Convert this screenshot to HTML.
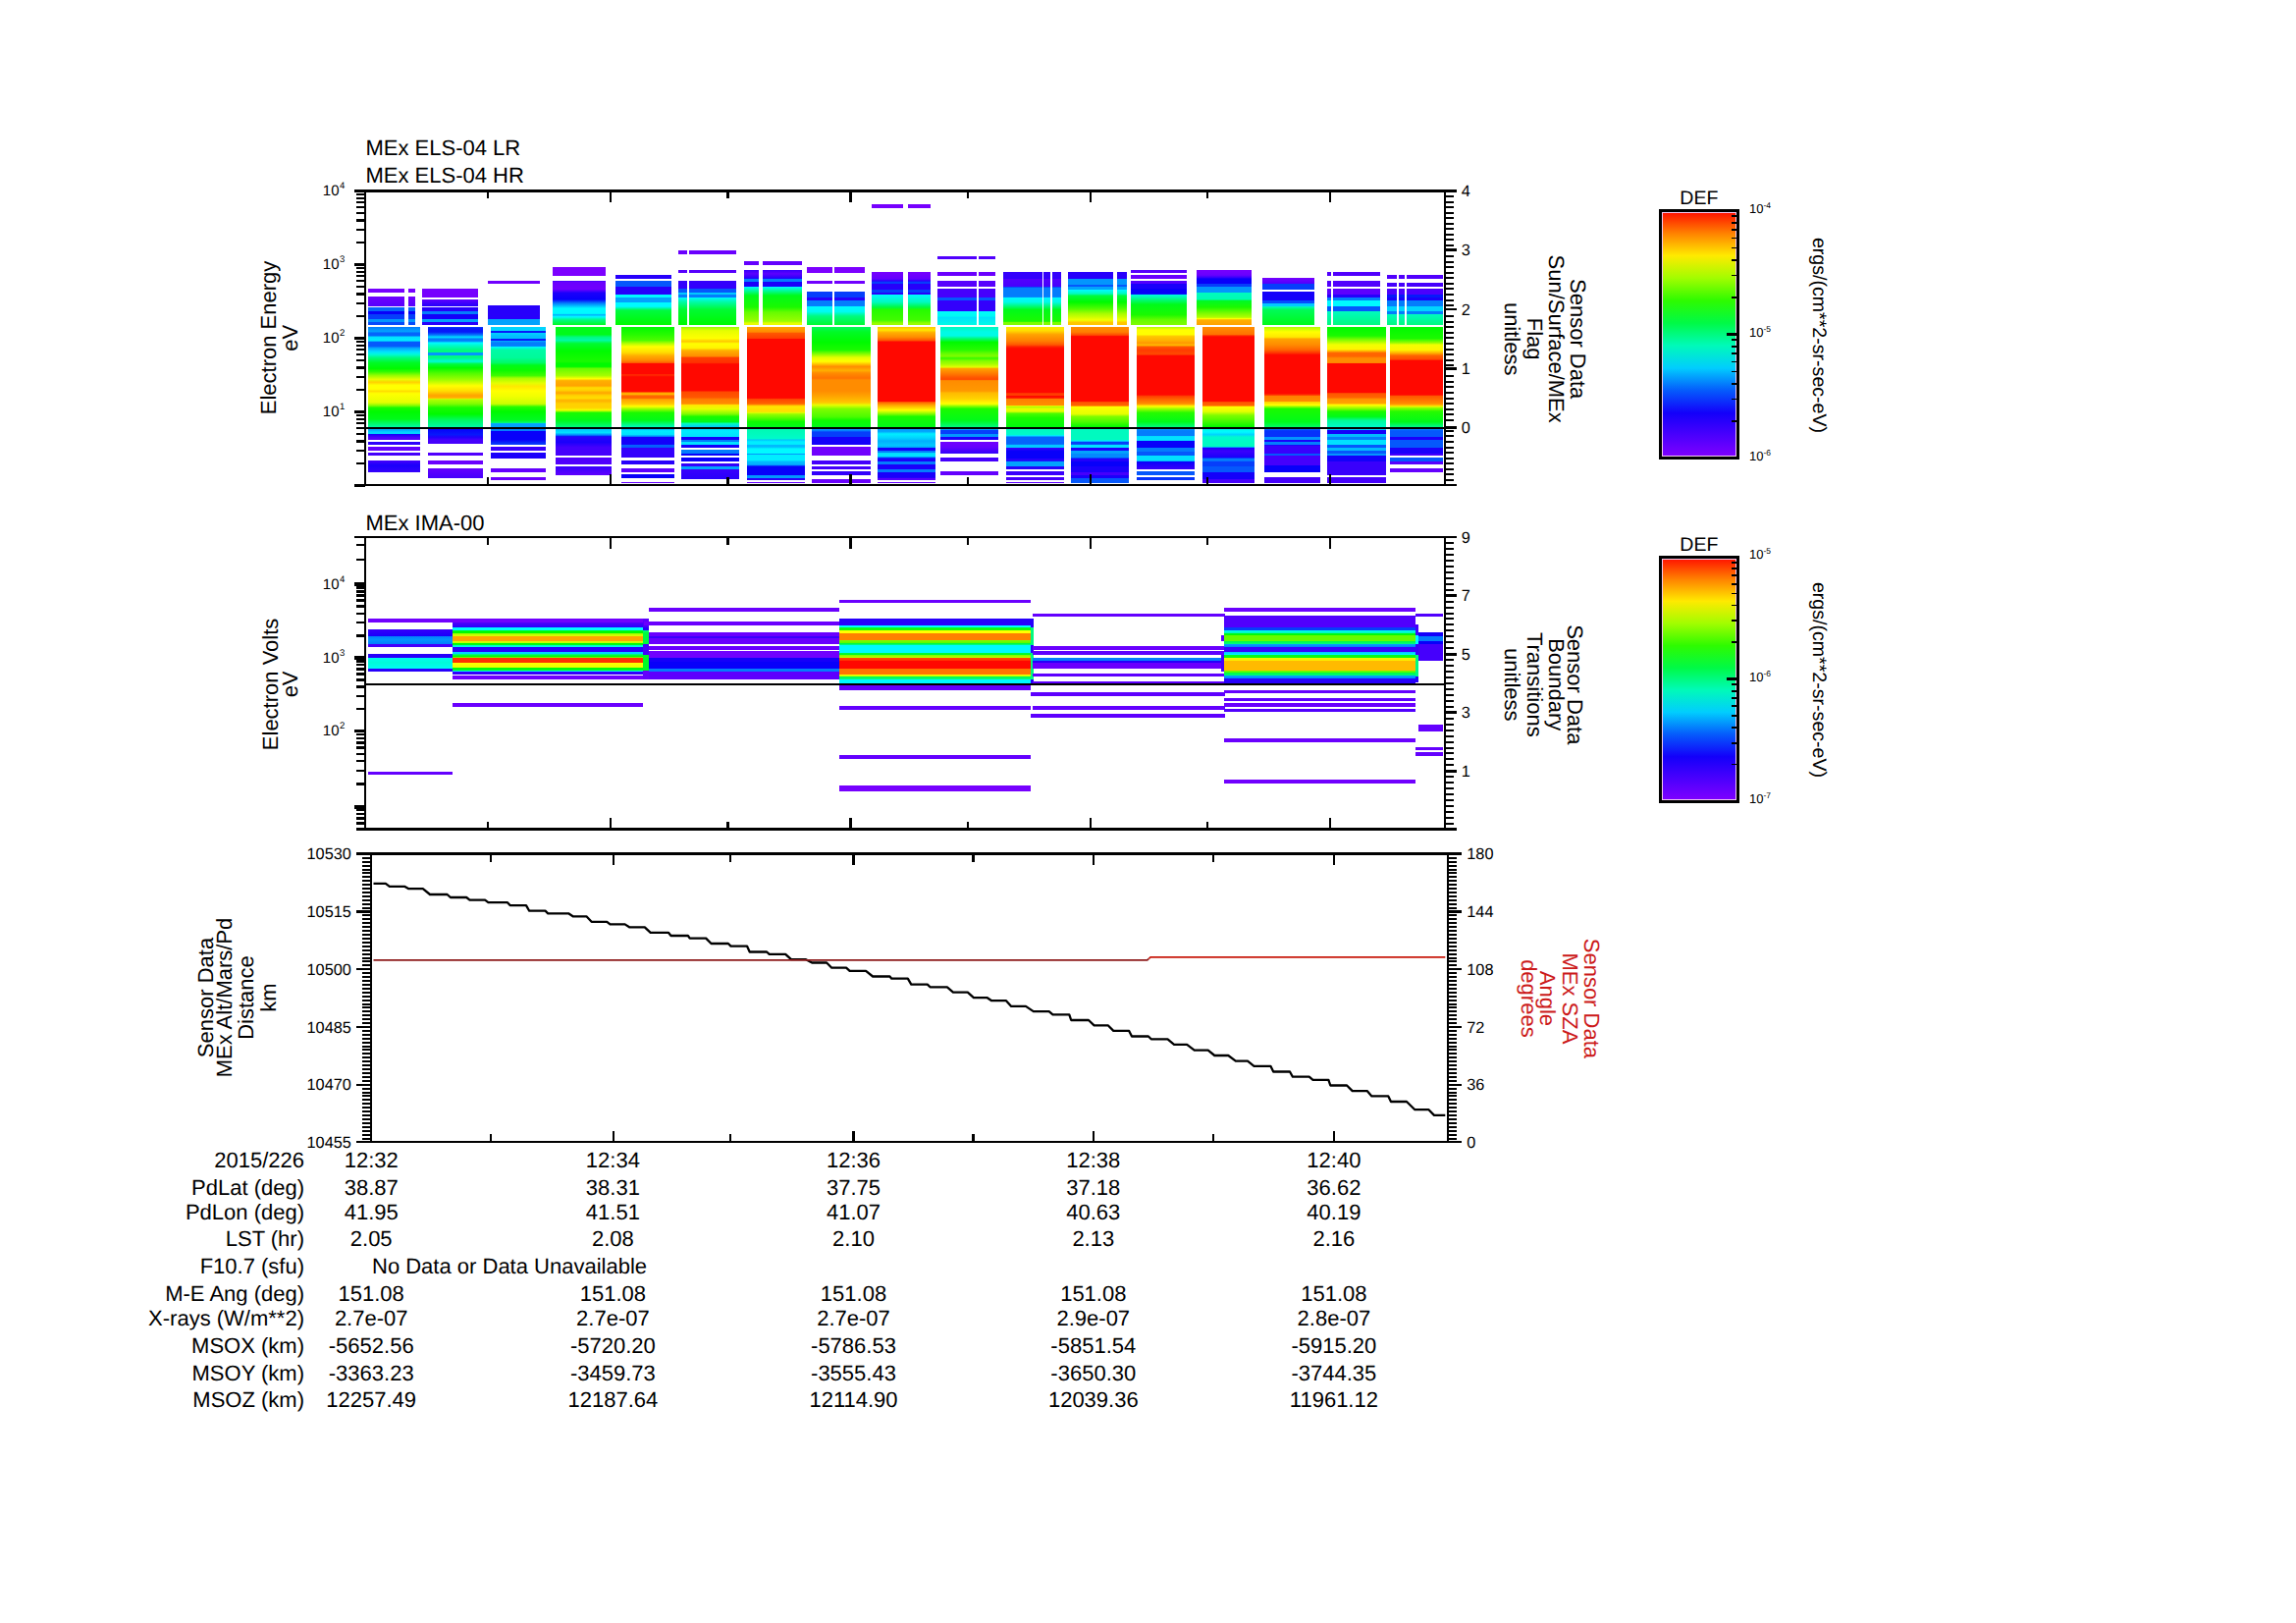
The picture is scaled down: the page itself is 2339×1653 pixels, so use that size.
<!DOCTYPE html>
<html><head><meta charset="utf-8"><title>MEx ELS / IMA summary plot</title><style>html,body{margin:0;padding:0;background:#fff;font-family:"Liberation Sans",sans-serif}svg{display:block}</style></head><body>
<svg width="2339" height="1653" viewBox="0 0 2339 1653" font-family="'Liberation Sans', sans-serif" shape-rendering="crispEdges" text-rendering="geometricPrecision"><defs><linearGradient id="g1" x1="0" y1="0" x2="0" y2="1"><stop offset="0.0000" stop-color="#047dfc"/><stop offset="0.0377" stop-color="#03a2fd"/><stop offset="0.0548" stop-color="#0564fc"/><stop offset="0.0753" stop-color="#0564fc"/><stop offset="0.0890" stop-color="#01e1fe"/><stop offset="0.1210" stop-color="#00eeff"/><stop offset="0.1279" stop-color="#03a2fd"/><stop offset="0.1347" stop-color="#0558fc"/><stop offset="0.1689" stop-color="#0558fc"/><stop offset="0.1861" stop-color="#03a2fd"/><stop offset="0.2203" stop-color="#01e1fe"/><stop offset="0.2432" stop-color="#00fad9"/><stop offset="0.2717" stop-color="#00fa80"/><stop offset="0.3174" stop-color="#00fa26"/><stop offset="0.3687" stop-color="#00fa00"/><stop offset="0.3973" stop-color="#33fb00"/><stop offset="0.4315" stop-color="#99fd00"/><stop offset="0.4658" stop-color="#e5fe00"/><stop offset="0.4909" stop-color="#ffd100"/><stop offset="0.5171" stop-color="#ffff00"/><stop offset="0.5514" stop-color="#ffff00"/><stop offset="0.5708" stop-color="#ffdd00"/><stop offset="0.5913" stop-color="#ffff00"/><stop offset="0.6712" stop-color="#e5fe00"/><stop offset="0.6998" stop-color="#7ffc00"/><stop offset="0.7169" stop-color="#1afa00"/><stop offset="0.7511" stop-color="#00fa00"/><stop offset="0.8196" stop-color="#00fa1a"/><stop offset="0.8425" stop-color="#00fa4c"/><stop offset="0.8904" stop-color="#00faa6"/><stop offset="0.8984" stop-color="#00faf2"/><stop offset="0.9064" stop-color="#02bbfe"/><stop offset="0.9132" stop-color="#03a2fd"/><stop offset="0.9338" stop-color="#01d4fe"/><stop offset="0.9486" stop-color="#01d4fe"/><stop offset="0.9486" stop-color="#0800fa"/><stop offset="0.9623" stop-color="#2700fb"/><stop offset="0.9852" stop-color="#5100fd"/><stop offset="1.0000" stop-color="#5100fd"/></linearGradient><linearGradient id="g2" x1="0" y1="0" x2="0" y2="1"><stop offset="0.0000" stop-color="#4500fc"/><stop offset="0.4318" stop-color="#1a00fb"/><stop offset="1.0000" stop-color="#3300fc"/><stop offset="1.0000" stop-color="#3300fc"/></linearGradient><linearGradient id="g3" x1="0" y1="0" x2="0" y2="1"><stop offset="0.0000" stop-color="#063efb"/><stop offset="0.0142" stop-color="#0719fa"/><stop offset="0.0416" stop-color="#0719fa"/><stop offset="0.0690" stop-color="#047dfc"/><stop offset="0.0854" stop-color="#01e1fe"/><stop offset="0.1019" stop-color="#047dfc"/><stop offset="0.1183" stop-color="#047dfc"/><stop offset="0.1265" stop-color="#02bbfe"/><stop offset="0.1347" stop-color="#00faff"/><stop offset="0.1621" stop-color="#00fabf"/><stop offset="0.1950" stop-color="#00fa80"/><stop offset="0.2147" stop-color="#00fa80"/><stop offset="0.2147" stop-color="#0396fd"/><stop offset="0.2388" stop-color="#0396fd"/><stop offset="0.2388" stop-color="#00fa80"/><stop offset="0.2607" stop-color="#00fa80"/><stop offset="0.2935" stop-color="#00fad9"/><stop offset="0.3045" stop-color="#00fa8c"/><stop offset="0.3154" stop-color="#00fa40"/><stop offset="0.3483" stop-color="#00fa00"/><stop offset="0.3921" stop-color="#4dfc00"/><stop offset="0.4469" stop-color="#99fd00"/><stop offset="0.5016" stop-color="#ffff00"/><stop offset="0.5455" stop-color="#ffdd00"/><stop offset="0.5838" stop-color="#ffa300"/><stop offset="0.6057" stop-color="#ffaf00"/><stop offset="0.6112" stop-color="#fff900"/><stop offset="0.6166" stop-color="#b2fe00"/><stop offset="0.6550" stop-color="#7ffc00"/><stop offset="0.6878" stop-color="#1afa00"/><stop offset="0.7426" stop-color="#00fa00"/><stop offset="0.7974" stop-color="#00fa66"/><stop offset="0.8543" stop-color="#00faa6"/><stop offset="0.8594" stop-color="#01e1fe"/><stop offset="0.8645" stop-color="#0471fc"/><stop offset="0.8697" stop-color="#0800fa"/><stop offset="0.9179" stop-color="#0719fa"/><stop offset="0.9398" stop-color="#2000fb"/><stop offset="0.9617" stop-color="#4500fc"/><stop offset="1.0000" stop-color="#4500fc"/><stop offset="1.0000" stop-color="#4500fc"/></linearGradient><linearGradient id="g4" x1="0" y1="0" x2="0" y2="1"><stop offset="0.0000" stop-color="#6400fe"/><stop offset="1.0000" stop-color="#4500fc"/><stop offset="1.0000" stop-color="#4500fc"/></linearGradient><linearGradient id="g5" x1="0" y1="0" x2="0" y2="1"><stop offset="0.0000" stop-color="#01d4fe"/><stop offset="0.0306" stop-color="#01d4fe"/><stop offset="0.0306" stop-color="#0719fa"/><stop offset="0.0470" stop-color="#0719fa"/><stop offset="0.0470" stop-color="#01d4fe"/><stop offset="0.0798" stop-color="#02bbfe"/><stop offset="0.0984" stop-color="#02bbfe"/><stop offset="0.0984" stop-color="#0719fa"/><stop offset="0.1202" stop-color="#0719fa"/><stop offset="0.1202" stop-color="#03a2fd"/><stop offset="0.1344" stop-color="#047dfc"/><stop offset="0.1617" stop-color="#047dfc"/><stop offset="0.1645" stop-color="#02bbfe"/><stop offset="0.1672" stop-color="#00faff"/><stop offset="0.1945" stop-color="#00faa6"/><stop offset="0.2601" stop-color="#00fa99"/><stop offset="0.3038" stop-color="#00fa66"/><stop offset="0.3257" stop-color="#00fa1a"/><stop offset="0.3694" stop-color="#0dfa00"/><stop offset="0.4131" stop-color="#40fb00"/><stop offset="0.4350" stop-color="#a6fd00"/><stop offset="0.4787" stop-color="#e5fe00"/><stop offset="0.5060" stop-color="#ffe800"/><stop offset="0.5443" stop-color="#ffff00"/><stop offset="0.5880" stop-color="#f2ff00"/><stop offset="0.6536" stop-color="#ccfe00"/><stop offset="0.6672" stop-color="#79fc00"/><stop offset="0.6809" stop-color="#26fb00"/><stop offset="0.7191" stop-color="#00fa00"/><stop offset="0.7956" stop-color="#00fa26"/><stop offset="0.8175" stop-color="#00fa80"/><stop offset="0.8202" stop-color="#00faec"/><stop offset="0.8230" stop-color="#03a2fd"/><stop offset="0.8525" stop-color="#03a2fd"/><stop offset="0.8667" stop-color="#047dfc"/><stop offset="0.8831" stop-color="#047dfc"/><stop offset="0.8885" stop-color="#0800fa"/><stop offset="0.9596" stop-color="#0800fa"/><stop offset="0.9978" stop-color="#063efb"/><stop offset="1.0000" stop-color="#063efb"/></linearGradient><linearGradient id="g6" x1="0" y1="0" x2="0" y2="1"><stop offset="0.0000" stop-color="#00fa1a"/><stop offset="0.0581" stop-color="#00fa1a"/><stop offset="0.0782" stop-color="#00fa80"/><stop offset="0.1032" stop-color="#00faa6"/><stop offset="0.1283" stop-color="#00fa33"/><stop offset="0.1884" stop-color="#00fa00"/><stop offset="0.2685" stop-color="#1afa00"/><stop offset="0.2836" stop-color="#00fa00"/><stop offset="0.3086" stop-color="#00fa00"/><stop offset="0.3236" stop-color="#66fc00"/><stop offset="0.3788" stop-color="#a6fd00"/><stop offset="0.4038" stop-color="#ffff00"/><stop offset="0.4188" stop-color="#ffaf00"/><stop offset="0.4589" stop-color="#ffa300"/><stop offset="0.4739" stop-color="#ffdd00"/><stop offset="0.4940" stop-color="#ffd100"/><stop offset="0.5140" stop-color="#ffa300"/><stop offset="0.5341" stop-color="#ffd100"/><stop offset="0.5541" stop-color="#ffdd00"/><stop offset="0.5741" stop-color="#ffaf00"/><stop offset="0.5992" stop-color="#ffd100"/><stop offset="0.6293" stop-color="#ffd100"/><stop offset="0.6493" stop-color="#f2ff00"/><stop offset="0.6593" stop-color="#86fd00"/><stop offset="0.6693" stop-color="#1afa00"/><stop offset="0.7295" stop-color="#00fa1a"/><stop offset="0.7816" stop-color="#00fa80"/><stop offset="0.7906" stop-color="#00fad9"/><stop offset="0.7996" stop-color="#02c8fe"/><stop offset="0.8246" stop-color="#01e1fe"/><stop offset="0.8447" stop-color="#047dfc"/><stop offset="0.8522" stop-color="#071ffb"/><stop offset="0.8597" stop-color="#2700fb"/><stop offset="0.8998" stop-color="#1a00fb"/><stop offset="0.9399" stop-color="#4500fc"/><stop offset="1.0000" stop-color="#4500fc"/><stop offset="1.0000" stop-color="#4500fc"/></linearGradient><linearGradient id="g7" x1="0" y1="0" x2="0" y2="1"><stop offset="0.0000" stop-color="#3900fc"/><stop offset="1.0000" stop-color="#5d00fe"/><stop offset="1.0000" stop-color="#5d00fe"/></linearGradient><linearGradient id="g8" x1="0" y1="0" x2="0" y2="1"><stop offset="0.0000" stop-color="#7000fe"/><stop offset="1.0000" stop-color="#5700fd"/><stop offset="1.0000" stop-color="#5700fd"/></linearGradient><linearGradient id="g9" x1="0" y1="0" x2="0" y2="1"><stop offset="0.0000" stop-color="#0564fc"/><stop offset="0.2074" stop-color="#0564fc"/><stop offset="0.2074" stop-color="#0800fa"/><stop offset="0.3926" stop-color="#0800fa"/><stop offset="0.3926" stop-color="#063efb"/><stop offset="0.6519" stop-color="#063efb"/><stop offset="0.6519" stop-color="#0396fd"/><stop offset="0.8370" stop-color="#0396fd"/><stop offset="0.8370" stop-color="#064bfc"/><stop offset="1.0000" stop-color="#064bfc"/><stop offset="1.0000" stop-color="#064bfc"/></linearGradient><linearGradient id="g10" x1="0" y1="0" x2="0" y2="1"><stop offset="0.0000" stop-color="#7000fe"/><stop offset="1.0000" stop-color="#5700fd"/><stop offset="1.0000" stop-color="#5700fd"/></linearGradient><linearGradient id="g11" x1="0" y1="0" x2="0" y2="1"><stop offset="0.0000" stop-color="#0564fc"/><stop offset="0.2074" stop-color="#0564fc"/><stop offset="0.2074" stop-color="#0800fa"/><stop offset="0.3926" stop-color="#0800fa"/><stop offset="0.3926" stop-color="#063efb"/><stop offset="0.6519" stop-color="#063efb"/><stop offset="0.6519" stop-color="#0396fd"/><stop offset="0.8370" stop-color="#0396fd"/><stop offset="0.8370" stop-color="#064bfc"/><stop offset="1.0000" stop-color="#064bfc"/><stop offset="1.0000" stop-color="#064bfc"/></linearGradient><linearGradient id="g12" x1="0" y1="0" x2="0" y2="1"><stop offset="0.0000" stop-color="#5d00fe"/><stop offset="1.0000" stop-color="#2700fb"/><stop offset="1.0000" stop-color="#2700fb"/></linearGradient><linearGradient id="g13" x1="0" y1="0" x2="0" y2="1"><stop offset="0.0000" stop-color="#2700fb"/><stop offset="0.2074" stop-color="#2700fb"/><stop offset="0.2074" stop-color="#047dfc"/><stop offset="0.3926" stop-color="#047dfc"/><stop offset="0.3926" stop-color="#1400fa"/><stop offset="0.6519" stop-color="#1400fa"/><stop offset="0.6519" stop-color="#03a2fd"/><stop offset="0.8370" stop-color="#03a2fd"/><stop offset="0.8370" stop-color="#2700fb"/><stop offset="1.0000" stop-color="#2700fb"/><stop offset="1.0000" stop-color="#2700fb"/></linearGradient><linearGradient id="g14" x1="0" y1="0" x2="0" y2="1"><stop offset="0.0000" stop-color="#2700fb"/><stop offset="0.6846" stop-color="#2700fb"/><stop offset="0.6846" stop-color="#03a2fd"/><stop offset="1.0000" stop-color="#03a2fd"/><stop offset="1.0000" stop-color="#03a2fd"/></linearGradient><linearGradient id="g15" x1="0" y1="0" x2="0" y2="1"><stop offset="0.0000" stop-color="#3900fc"/><stop offset="0.0292" stop-color="#6a00fe"/><stop offset="0.1901" stop-color="#7000fe"/><stop offset="0.2339" stop-color="#4500fc"/><stop offset="0.2778" stop-color="#1a00fb"/><stop offset="0.4240" stop-color="#0800fa"/><stop offset="0.5117" stop-color="#047dfc"/><stop offset="0.5702" stop-color="#02bbfe"/><stop offset="0.6287" stop-color="#00faff"/><stop offset="0.7456" stop-color="#00faff"/><stop offset="0.7749" stop-color="#02affe"/><stop offset="0.8187" stop-color="#00faff"/><stop offset="0.8918" stop-color="#00fa80"/><stop offset="1.0000" stop-color="#00fa26"/><stop offset="1.0000" stop-color="#00fa26"/></linearGradient><linearGradient id="g16" x1="0" y1="0" x2="0" y2="1"><stop offset="0.0000" stop-color="#00fa00"/><stop offset="0.0569" stop-color="#26fb00"/><stop offset="0.1010" stop-color="#4dfc00"/><stop offset="0.1255" stop-color="#b2fe00"/><stop offset="0.1500" stop-color="#ffff00"/><stop offset="0.1941" stop-color="#ffdd00"/><stop offset="0.2186" stop-color="#ffaf00"/><stop offset="0.2529" stop-color="#ff8c00"/><stop offset="0.2725" stop-color="#ff6400"/><stop offset="0.2775" stop-color="#ff0800"/><stop offset="0.3559" stop-color="#ff0800"/><stop offset="0.3657" stop-color="#ff3000"/><stop offset="0.3804" stop-color="#ff0800"/><stop offset="0.4931" stop-color="#ff0800"/><stop offset="0.4980" stop-color="#ff5700"/><stop offset="0.5029" stop-color="#ffa300"/><stop offset="0.5176" stop-color="#ffba00"/><stop offset="0.5225" stop-color="#ff6400"/><stop offset="0.5422" stop-color="#ff6400"/><stop offset="0.5520" stop-color="#ffa300"/><stop offset="0.5863" stop-color="#ffc600"/><stop offset="0.6059" stop-color="#ffff00"/><stop offset="0.6255" stop-color="#99fd00"/><stop offset="0.6549" stop-color="#1afa00"/><stop offset="0.7137" stop-color="#00fa1a"/><stop offset="0.7431" stop-color="#00fa80"/><stop offset="0.7647" stop-color="#00fabf"/><stop offset="0.7716" stop-color="#00eeff"/><stop offset="0.7784" stop-color="#03a2fd"/><stop offset="0.7922" stop-color="#00eeff"/><stop offset="0.8216" stop-color="#01e1fe"/><stop offset="0.8363" stop-color="#047dfc"/><stop offset="0.8387" stop-color="#0632fb"/><stop offset="0.8412" stop-color="#1400fa"/><stop offset="0.8951" stop-color="#1400fa"/><stop offset="0.8975" stop-color="#0726fb"/><stop offset="0.9000" stop-color="#0564fc"/><stop offset="0.9196" stop-color="#0558fc"/><stop offset="0.9221" stop-color="#0800fa"/><stop offset="0.9245" stop-color="#3300fc"/><stop offset="0.9686" stop-color="#3300fc"/><stop offset="1.0000" stop-color="#3300fc"/><stop offset="1.0000" stop-color="#3300fc"/></linearGradient><linearGradient id="g17" x1="0" y1="0" x2="0" y2="1"><stop offset="0.0000" stop-color="#99fd00"/><stop offset="0.0299" stop-color="#e5fe00"/><stop offset="0.0938" stop-color="#ffff00"/><stop offset="0.1205" stop-color="#ffc600"/><stop offset="0.1365" stop-color="#ffff00"/><stop offset="0.1738" stop-color="#fff400"/><stop offset="0.1951" stop-color="#ffaf00"/><stop offset="0.2431" stop-color="#ff8c00"/><stop offset="0.2537" stop-color="#ff3d00"/><stop offset="0.2964" stop-color="#ff3000"/><stop offset="0.3070" stop-color="#ff0800"/><stop offset="0.5256" stop-color="#ff0800"/><stop offset="0.5416" stop-color="#ff4a00"/><stop offset="0.5842" stop-color="#ff5700"/><stop offset="0.6002" stop-color="#ff7f00"/><stop offset="0.6375" stop-color="#ff8c00"/><stop offset="0.6482" stop-color="#ffe800"/><stop offset="0.6802" stop-color="#e5fe00"/><stop offset="0.7228" stop-color="#7ffc00"/><stop offset="0.7441" stop-color="#1afa00"/><stop offset="0.7868" stop-color="#00fa1a"/><stop offset="0.7948" stop-color="#00fa6c"/><stop offset="0.8028" stop-color="#00fabf"/><stop offset="0.8316" stop-color="#02c8fe"/><stop offset="0.8465" stop-color="#02c8fe"/><stop offset="0.8614" stop-color="#00eeff"/><stop offset="0.9094" stop-color="#01e1fe"/><stop offset="0.9104" stop-color="#038efd"/><stop offset="0.9115" stop-color="#063afb"/><stop offset="0.9126" stop-color="#1400fa"/><stop offset="0.9382" stop-color="#1400fa"/><stop offset="0.9382" stop-color="#047dfc"/><stop offset="0.9520" stop-color="#047dfc"/><stop offset="0.9520" stop-color="#01e1fe"/><stop offset="0.9765" stop-color="#01e1fe"/><stop offset="0.9765" stop-color="#1400fa"/><stop offset="1.0000" stop-color="#1400fa"/><stop offset="1.0000" stop-color="#1400fa"/></linearGradient><linearGradient id="g18" x1="0" y1="0" x2="0" y2="1"><stop offset="0.0000" stop-color="#047dfc"/><stop offset="0.7619" stop-color="#047dfc"/><stop offset="0.7619" stop-color="#0800fa"/><stop offset="1.0000" stop-color="#0800fa"/><stop offset="1.0000" stop-color="#0800fa"/></linearGradient><linearGradient id="g19" x1="0" y1="0" x2="0" y2="1"><stop offset="0.0000" stop-color="#3300fc"/><stop offset="0.1680" stop-color="#3300fc"/><stop offset="0.1680" stop-color="#03a2fd"/><stop offset="0.3600" stop-color="#03a2fd"/><stop offset="0.3600" stop-color="#3900fc"/><stop offset="1.0000" stop-color="#2700fb"/><stop offset="1.0000" stop-color="#2700fb"/></linearGradient><linearGradient id="g20" x1="0" y1="0" x2="0" y2="1"><stop offset="0.0000" stop-color="#ffa300"/><stop offset="0.0319" stop-color="#ff8c00"/><stop offset="0.0403" stop-color="#ff5700"/><stop offset="0.0739" stop-color="#ff3d00"/><stop offset="0.0782" stop-color="#ff0800"/><stop offset="0.4647" stop-color="#ff0800"/><stop offset="0.4731" stop-color="#ff4a00"/><stop offset="0.5025" stop-color="#ff6400"/><stop offset="0.5109" stop-color="#ffa900"/><stop offset="0.5193" stop-color="#ffe800"/><stop offset="0.5529" stop-color="#ffdd00"/><stop offset="0.5613" stop-color="#dffe00"/><stop offset="0.5697" stop-color="#99fd00"/><stop offset="0.6034" stop-color="#40fb00"/><stop offset="0.6202" stop-color="#0dfa00"/><stop offset="0.6555" stop-color="#00fa1a"/><stop offset="0.6613" stop-color="#00fa66"/><stop offset="0.6672" stop-color="#00fab2"/><stop offset="0.7042" stop-color="#00fabf"/><stop offset="0.7336" stop-color="#00facc"/><stop offset="0.7378" stop-color="#02bbfe"/><stop offset="0.7504" stop-color="#00eeff"/><stop offset="0.7672" stop-color="#00eeff"/><stop offset="0.7756" stop-color="#02affe"/><stop offset="0.7882" stop-color="#02c8fe"/><stop offset="0.7966" stop-color="#00faff"/><stop offset="0.8261" stop-color="#00faff"/><stop offset="0.8282" stop-color="#02bbfe"/><stop offset="0.8303" stop-color="#047dfc"/><stop offset="0.8387" stop-color="#00eeff"/><stop offset="0.8723" stop-color="#00eeff"/><stop offset="0.8807" stop-color="#02bbfe"/><stop offset="0.9017" stop-color="#02affe"/><stop offset="0.9071" stop-color="#0558fc"/><stop offset="0.9126" stop-color="#0800fa"/><stop offset="0.9689" stop-color="#0800fa"/><stop offset="0.9702" stop-color="#064bfc"/><stop offset="0.9714" stop-color="#0396fd"/><stop offset="0.9882" stop-color="#0396fd"/><stop offset="0.9891" stop-color="#072cfb"/><stop offset="0.9899" stop-color="#2700fb"/><stop offset="1.0000" stop-color="#2700fb"/><stop offset="1.0000" stop-color="#2700fb"/></linearGradient><linearGradient id="g21" x1="0" y1="0" x2="0" y2="1"><stop offset="0.0000" stop-color="#00fa59"/><stop offset="0.0415" stop-color="#00fa26"/><stop offset="0.1288" stop-color="#00fa00"/><stop offset="0.1943" stop-color="#1afa00"/><stop offset="0.2271" stop-color="#7ffc00"/><stop offset="0.2598" stop-color="#e5fe00"/><stop offset="0.2926" stop-color="#ffff00"/><stop offset="0.3144" stop-color="#ffc600"/><stop offset="0.3362" stop-color="#ff8c00"/><stop offset="0.3472" stop-color="#ff9800"/><stop offset="0.3690" stop-color="#ffaf00"/><stop offset="0.3908" stop-color="#ff8c00"/><stop offset="0.4345" stop-color="#ff7200"/><stop offset="0.4509" stop-color="#ff8c00"/><stop offset="0.5437" stop-color="#ff8c00"/><stop offset="0.5873" stop-color="#ffa300"/><stop offset="0.6419" stop-color="#ffc600"/><stop offset="0.6638" stop-color="#e5fe00"/><stop offset="0.6965" stop-color="#7ffc00"/><stop offset="0.7620" stop-color="#4dfc00"/><stop offset="0.7948" stop-color="#0dfa00"/><stop offset="0.8515" stop-color="#00fa1a"/><stop offset="0.8566" stop-color="#00fa84"/><stop offset="0.8617" stop-color="#00faee"/><stop offset="0.8668" stop-color="#03a2fd"/><stop offset="0.8821" stop-color="#047dfc"/><stop offset="0.8930" stop-color="#063efb"/><stop offset="0.9312" stop-color="#063efb"/><stop offset="0.9367" stop-color="#1400fa"/><stop offset="0.9967" stop-color="#1400fa"/><stop offset="1.0000" stop-color="#1400fa"/></linearGradient><linearGradient id="g22" x1="0" y1="0" x2="0" y2="1"><stop offset="0.0000" stop-color="#0558fc"/><stop offset="0.1316" stop-color="#0558fc"/><stop offset="0.1316" stop-color="#2700fb"/><stop offset="0.3070" stop-color="#2700fb"/><stop offset="0.3070" stop-color="#00faff"/><stop offset="0.3801" stop-color="#00faff"/><stop offset="0.3801" stop-color="#03a2fd"/><stop offset="0.4971" stop-color="#03a2fd"/><stop offset="0.4971" stop-color="#00faff"/><stop offset="0.5848" stop-color="#00faff"/><stop offset="0.6140" stop-color="#00fabf"/><stop offset="0.6433" stop-color="#00fa80"/><stop offset="0.6725" stop-color="#00fa40"/><stop offset="1.0000" stop-color="#00fa00"/><stop offset="1.0000" stop-color="#00fa00"/></linearGradient><linearGradient id="g23" x1="0" y1="0" x2="0" y2="1"><stop offset="0.0000" stop-color="#3300fc"/><stop offset="0.1901" stop-color="#3300fc"/><stop offset="0.1901" stop-color="#0558fc"/><stop offset="0.2632" stop-color="#0558fc"/><stop offset="0.2632" stop-color="#02c8fe"/><stop offset="0.3070" stop-color="#02c8fe"/><stop offset="0.3070" stop-color="#047dfc"/><stop offset="0.3713" stop-color="#047dfc"/><stop offset="0.3757" stop-color="#02bbfe"/><stop offset="0.3801" stop-color="#00faff"/><stop offset="0.4825" stop-color="#00faa6"/><stop offset="0.6579" stop-color="#00fa33"/><stop offset="1.0000" stop-color="#00fa00"/><stop offset="1.0000" stop-color="#00fa00"/></linearGradient><linearGradient id="g24" x1="0" y1="0" x2="0" y2="1"><stop offset="0.0000" stop-color="#3300fc"/><stop offset="0.1901" stop-color="#3300fc"/><stop offset="0.1901" stop-color="#0558fc"/><stop offset="0.2632" stop-color="#0558fc"/><stop offset="0.2632" stop-color="#02c8fe"/><stop offset="0.3070" stop-color="#02c8fe"/><stop offset="0.3070" stop-color="#047dfc"/><stop offset="0.3713" stop-color="#047dfc"/><stop offset="0.3757" stop-color="#02bbfe"/><stop offset="0.3801" stop-color="#00faff"/><stop offset="0.4825" stop-color="#00faa6"/><stop offset="0.6579" stop-color="#00fa33"/><stop offset="1.0000" stop-color="#00fa00"/><stop offset="1.0000" stop-color="#00fa00"/></linearGradient><linearGradient id="g25" x1="0" y1="0" x2="0" y2="1"><stop offset="0.0000" stop-color="#3300fc"/><stop offset="0.0703" stop-color="#5d00fe"/><stop offset="0.1522" stop-color="#2700fb"/><stop offset="0.1581" stop-color="#071ffb"/><stop offset="0.1639" stop-color="#047dfc"/><stop offset="0.2155" stop-color="#047dfc"/><stop offset="0.2155" stop-color="#1a00fb"/><stop offset="0.3044" stop-color="#1a00fb"/><stop offset="0.3060" stop-color="#063afb"/><stop offset="0.3076" stop-color="#039afd"/><stop offset="0.3091" stop-color="#00faff"/><stop offset="0.3981" stop-color="#00fa80"/><stop offset="0.4684" stop-color="#00fa1a"/><stop offset="0.6792" stop-color="#1afa00"/><stop offset="0.7728" stop-color="#66fc00"/><stop offset="0.9368" stop-color="#99fd00"/><stop offset="0.9719" stop-color="#e5fe00"/><stop offset="1.0000" stop-color="#e5fe00"/><stop offset="1.0000" stop-color="#e5fe00"/></linearGradient><linearGradient id="g26" x1="0" y1="0" x2="0" y2="1"><stop offset="0.0000" stop-color="#3300fc"/><stop offset="0.0703" stop-color="#5d00fe"/><stop offset="0.1522" stop-color="#2700fb"/><stop offset="0.1581" stop-color="#071ffb"/><stop offset="0.1639" stop-color="#047dfc"/><stop offset="0.2155" stop-color="#047dfc"/><stop offset="0.2155" stop-color="#1a00fb"/><stop offset="0.3044" stop-color="#1a00fb"/><stop offset="0.3060" stop-color="#063afb"/><stop offset="0.3076" stop-color="#039afd"/><stop offset="0.3091" stop-color="#00faff"/><stop offset="0.3981" stop-color="#00fa80"/><stop offset="0.4684" stop-color="#00fa1a"/><stop offset="0.6792" stop-color="#1afa00"/><stop offset="0.7728" stop-color="#66fc00"/><stop offset="0.9368" stop-color="#99fd00"/><stop offset="0.9719" stop-color="#e5fe00"/><stop offset="1.0000" stop-color="#e5fe00"/><stop offset="1.0000" stop-color="#e5fe00"/></linearGradient><linearGradient id="g27" x1="0" y1="0" x2="0" y2="1"><stop offset="0.0000" stop-color="#063efb"/><stop offset="0.1751" stop-color="#063efb"/><stop offset="0.1751" stop-color="#2700fb"/><stop offset="0.2646" stop-color="#2700fb"/><stop offset="0.2646" stop-color="#047dfc"/><stop offset="0.4280" stop-color="#047dfc"/><stop offset="0.4377" stop-color="#02bbfe"/><stop offset="0.4475" stop-color="#00faff"/><stop offset="0.6031" stop-color="#00faf2"/><stop offset="0.7393" stop-color="#00fa80"/><stop offset="1.0000" stop-color="#00fa33"/><stop offset="1.0000" stop-color="#00fa33"/></linearGradient><linearGradient id="g28" x1="0" y1="0" x2="0" y2="1"><stop offset="0.0000" stop-color="#063efb"/><stop offset="0.1751" stop-color="#063efb"/><stop offset="0.1751" stop-color="#2700fb"/><stop offset="0.2646" stop-color="#2700fb"/><stop offset="0.2646" stop-color="#047dfc"/><stop offset="0.4280" stop-color="#047dfc"/><stop offset="0.4377" stop-color="#02bbfe"/><stop offset="0.4475" stop-color="#00faff"/><stop offset="0.6031" stop-color="#00faf2"/><stop offset="0.7393" stop-color="#00fa80"/><stop offset="1.0000" stop-color="#00fa33"/><stop offset="1.0000" stop-color="#00fa33"/></linearGradient><linearGradient id="g29" x1="0" y1="0" x2="0" y2="1"><stop offset="0.0000" stop-color="#ffc600"/><stop offset="0.0193" stop-color="#ffe800"/><stop offset="0.0361" stop-color="#ffaf00"/><stop offset="0.0655" stop-color="#ff8c00"/><stop offset="0.0866" stop-color="#ff5700"/><stop offset="0.0975" stop-color="#ff0800"/><stop offset="0.4857" stop-color="#ff0800"/><stop offset="0.4924" stop-color="#ff6400"/><stop offset="0.5109" stop-color="#ffa300"/><stop offset="0.5277" stop-color="#ffd100"/><stop offset="0.5445" stop-color="#ffff00"/><stop offset="0.5571" stop-color="#bffe00"/><stop offset="0.5697" stop-color="#7ffc00"/><stop offset="0.5866" stop-color="#1afa00"/><stop offset="0.6555" stop-color="#00fa1a"/><stop offset="0.6594" stop-color="#00fa84"/><stop offset="0.6633" stop-color="#00faee"/><stop offset="0.6672" stop-color="#03a2fd"/><stop offset="0.6832" stop-color="#03a2fd"/><stop offset="0.7000" stop-color="#00eeff"/><stop offset="0.7252" stop-color="#01d4fe"/><stop offset="0.7462" stop-color="#02affe"/><stop offset="0.7756" stop-color="#02c8fe"/><stop offset="0.7882" stop-color="#03a2fd"/><stop offset="0.7903" stop-color="#0645fb"/><stop offset="0.7924" stop-color="#1400fa"/><stop offset="0.8067" stop-color="#1400fa"/><stop offset="0.8080" stop-color="#0632fb"/><stop offset="0.8092" stop-color="#047dfc"/><stop offset="0.8218" stop-color="#047dfc"/><stop offset="0.8261" stop-color="#01e1fe"/><stop offset="0.8471" stop-color="#01e1fe"/><stop offset="0.8513" stop-color="#0396fd"/><stop offset="0.8567" stop-color="#0638fb"/><stop offset="0.8622" stop-color="#1a00fb"/><stop offset="0.8790" stop-color="#1a00fb"/><stop offset="0.8798" stop-color="#072cfb"/><stop offset="0.8807" stop-color="#047dfc"/><stop offset="0.8975" stop-color="#047dfc"/><stop offset="0.8996" stop-color="#072cfb"/><stop offset="0.9017" stop-color="#1a00fb"/><stop offset="0.9294" stop-color="#1a00fb"/><stop offset="0.9311" stop-color="#072cfb"/><stop offset="0.9328" stop-color="#047dfc"/><stop offset="0.9479" stop-color="#047dfc"/><stop offset="0.9500" stop-color="#072cfb"/><stop offset="0.9521" stop-color="#1a00fb"/><stop offset="0.9857" stop-color="#1a00fb"/><stop offset="0.9899" stop-color="#5700fd"/><stop offset="1.0000" stop-color="#5700fd"/><stop offset="1.0000" stop-color="#5700fd"/></linearGradient><linearGradient id="g30" x1="0" y1="0" x2="0" y2="1"><stop offset="0.0000" stop-color="#00fabf"/><stop offset="0.0433" stop-color="#00fae6"/><stop offset="0.0774" stop-color="#00fae6"/><stop offset="0.1002" stop-color="#00fa80"/><stop offset="0.1344" stop-color="#00fa00"/><stop offset="0.2027" stop-color="#26fb00"/><stop offset="0.2369" stop-color="#66fc00"/><stop offset="0.2597" stop-color="#7ffc00"/><stop offset="0.2768" stop-color="#33fb00"/><stop offset="0.2995" stop-color="#7ffc00"/><stop offset="0.3280" stop-color="#a6fd00"/><stop offset="0.3565" stop-color="#e5fe00"/><stop offset="0.3679" stop-color="#ffa300"/><stop offset="0.4077" stop-color="#ff7f00"/><stop offset="0.4476" stop-color="#ff5700"/><stop offset="0.4647" stop-color="#ff4a00"/><stop offset="0.4761" stop-color="#ff8c00"/><stop offset="0.5672" stop-color="#ff9800"/><stop offset="0.5843" stop-color="#ffba00"/><stop offset="0.6355" stop-color="#ffd100"/><stop offset="0.6811" stop-color="#ffff00"/><stop offset="0.6953" stop-color="#b2fe00"/><stop offset="0.7096" stop-color="#66fc00"/><stop offset="0.7267" stop-color="#1afa00"/><stop offset="0.8292" stop-color="#00fa1a"/><stop offset="0.8884" stop-color="#00fa80"/><stop offset="0.8964" stop-color="#00faec"/><stop offset="0.9043" stop-color="#03a2fd"/><stop offset="0.9180" stop-color="#03a2fd"/><stop offset="0.9180" stop-color="#063efb"/><stop offset="0.9453" stop-color="#063efb"/><stop offset="0.9453" stop-color="#0396fd"/><stop offset="0.9727" stop-color="#0396fd"/><stop offset="0.9727" stop-color="#1a00fb"/><stop offset="1.0000" stop-color="#1a00fb"/><stop offset="1.0000" stop-color="#1a00fb"/></linearGradient><linearGradient id="g31" x1="0" y1="0" x2="0" y2="1"><stop offset="0.0000" stop-color="#7000fe"/><stop offset="0.4828" stop-color="#6400fe"/><stop offset="1.0000" stop-color="#3300fc"/><stop offset="1.0000" stop-color="#3300fc"/></linearGradient><linearGradient id="g32" x1="0" y1="0" x2="0" y2="1"><stop offset="0.0000" stop-color="#ffe800"/><stop offset="0.0253" stop-color="#ffdd00"/><stop offset="0.0524" stop-color="#ffa300"/><stop offset="0.0976" stop-color="#ff7f00"/><stop offset="0.1248" stop-color="#ff5700"/><stop offset="0.1383" stop-color="#ff2200"/><stop offset="0.1519" stop-color="#ff0800"/><stop offset="0.4593" stop-color="#ff0800"/><stop offset="0.4684" stop-color="#ff3d00"/><stop offset="0.4819" stop-color="#ff3d00"/><stop offset="0.4864" stop-color="#ff0800"/><stop offset="0.5000" stop-color="#ff1500"/><stop offset="0.5063" stop-color="#ff7f00"/><stop offset="0.5497" stop-color="#ff8c00"/><stop offset="0.5552" stop-color="#ffee00"/><stop offset="0.5606" stop-color="#a6fd00"/><stop offset="0.5769" stop-color="#e5fe00"/><stop offset="0.5949" stop-color="#e5fe00"/><stop offset="0.6017" stop-color="#99fd00"/><stop offset="0.6085" stop-color="#4dfc00"/><stop offset="0.6401" stop-color="#1afa00"/><stop offset="0.7052" stop-color="#00fa0d"/><stop offset="0.7116" stop-color="#00fa66"/><stop offset="0.7179" stop-color="#00fabf"/><stop offset="0.7577" stop-color="#00facc"/><stop offset="0.7645" stop-color="#01e7ff"/><stop offset="0.7712" stop-color="#03a2fd"/><stop offset="0.7758" stop-color="#0564fc"/><stop offset="0.8255" stop-color="#0564fc"/><stop offset="0.8300" stop-color="#02c8fe"/><stop offset="0.8481" stop-color="#02c8fe"/><stop offset="0.8496" stop-color="#0568fc"/><stop offset="0.8511" stop-color="#0808fa"/><stop offset="0.8526" stop-color="#3300fc"/><stop offset="0.8752" stop-color="#0800fa"/><stop offset="0.9250" stop-color="#0800fa"/><stop offset="0.9295" stop-color="#2700fb"/><stop offset="0.9430" stop-color="#2700fb"/><stop offset="0.9453" stop-color="#0632fb"/><stop offset="0.9476" stop-color="#03a2fd"/><stop offset="0.9792" stop-color="#03a2fd"/><stop offset="0.9815" stop-color="#0632fb"/><stop offset="0.9837" stop-color="#2700fb"/><stop offset="1.0000" stop-color="#2700fb"/><stop offset="1.0000" stop-color="#2700fb"/></linearGradient><linearGradient id="g33" x1="0" y1="0" x2="0" y2="1"><stop offset="0.0000" stop-color="#ff8c00"/><stop offset="0.0313" stop-color="#ff7f00"/><stop offset="0.0518" stop-color="#ff4a00"/><stop offset="0.0600" stop-color="#ff0800"/><stop offset="0.4753" stop-color="#ff0800"/><stop offset="0.4819" stop-color="#ff5700"/><stop offset="0.5041" stop-color="#ff6400"/><stop offset="0.5070" stop-color="#ffb400"/><stop offset="0.5099" stop-color="#ffff00"/><stop offset="0.5576" stop-color="#e5fe00"/><stop offset="0.5740" stop-color="#7ffc00"/><stop offset="0.6069" stop-color="#4dfc00"/><stop offset="0.6414" stop-color="#00fa00"/><stop offset="0.6472" stop-color="#00fa60"/><stop offset="0.6530" stop-color="#00fabf"/><stop offset="0.7220" stop-color="#00fabf"/><stop offset="0.7282" stop-color="#00eeff"/><stop offset="0.7344" stop-color="#03a2fd"/><stop offset="0.7385" stop-color="#063efb"/><stop offset="0.7508" stop-color="#063efb"/><stop offset="0.7529" stop-color="#0390fd"/><stop offset="0.7549" stop-color="#01e1fe"/><stop offset="0.7714" stop-color="#01e1fe"/><stop offset="0.7728" stop-color="#0489fd"/><stop offset="0.7741" stop-color="#0632fb"/><stop offset="0.7755" stop-color="#1a00fb"/><stop offset="0.7895" stop-color="#1a00fb"/><stop offset="0.7907" stop-color="#063efb"/><stop offset="0.7919" stop-color="#03a2fd"/><stop offset="0.8084" stop-color="#03a2fd"/><stop offset="0.8125" stop-color="#0489fd"/><stop offset="0.8372" stop-color="#0489fd"/><stop offset="0.8405" stop-color="#072cfb"/><stop offset="0.8438" stop-color="#2000fb"/><stop offset="0.8618" stop-color="#2000fb"/><stop offset="0.8618" stop-color="#0800fa"/><stop offset="0.8947" stop-color="#0800fa"/><stop offset="0.8947" stop-color="#1a00fb"/><stop offset="0.9317" stop-color="#1a00fb"/><stop offset="0.9317" stop-color="#4500fc"/><stop offset="0.9482" stop-color="#4500fc"/><stop offset="0.9482" stop-color="#1a00fb"/><stop offset="0.9663" stop-color="#1a00fb"/><stop offset="0.9663" stop-color="#0558fc"/><stop offset="1.0000" stop-color="#0558fc"/><stop offset="1.0000" stop-color="#0558fc"/></linearGradient><linearGradient id="g34" x1="0" y1="0" x2="0" y2="1"><stop offset="0.0000" stop-color="#7600fe"/><stop offset="0.1293" stop-color="#6400fe"/><stop offset="0.1659" stop-color="#2700fb"/><stop offset="0.1902" stop-color="#063efb"/><stop offset="0.2220" stop-color="#063efb"/><stop offset="0.2220" stop-color="#2700fb"/><stop offset="0.3293" stop-color="#2700fb"/><stop offset="0.3293" stop-color="#063efb"/><stop offset="0.3927" stop-color="#063efb"/><stop offset="0.3927" stop-color="#2700fb"/><stop offset="0.4220" stop-color="#2700fb"/><stop offset="0.4236" stop-color="#072afb"/><stop offset="0.4252" stop-color="#0392fd"/><stop offset="0.4268" stop-color="#00faff"/><stop offset="0.5683" stop-color="#00fabf"/><stop offset="0.6171" stop-color="#00fa80"/><stop offset="0.6659" stop-color="#00fa40"/><stop offset="0.7146" stop-color="#26fb00"/><stop offset="0.9098" stop-color="#40fb00"/><stop offset="0.9707" stop-color="#99fd00"/><stop offset="1.0000" stop-color="#99fd00"/><stop offset="1.0000" stop-color="#99fd00"/></linearGradient><linearGradient id="g35" x1="0" y1="0" x2="0" y2="1"><stop offset="0.0000" stop-color="#7600fe"/><stop offset="0.1293" stop-color="#6400fe"/><stop offset="0.1659" stop-color="#2700fb"/><stop offset="0.1902" stop-color="#063efb"/><stop offset="0.2220" stop-color="#063efb"/><stop offset="0.2220" stop-color="#2700fb"/><stop offset="0.3293" stop-color="#2700fb"/><stop offset="0.3293" stop-color="#063efb"/><stop offset="0.3927" stop-color="#063efb"/><stop offset="0.3927" stop-color="#2700fb"/><stop offset="0.4220" stop-color="#2700fb"/><stop offset="0.4236" stop-color="#072afb"/><stop offset="0.4252" stop-color="#0392fd"/><stop offset="0.4268" stop-color="#00faff"/><stop offset="0.5683" stop-color="#00fabf"/><stop offset="0.6171" stop-color="#00fa80"/><stop offset="0.6659" stop-color="#00fa40"/><stop offset="0.7146" stop-color="#26fb00"/><stop offset="0.9098" stop-color="#40fb00"/><stop offset="0.9707" stop-color="#99fd00"/><stop offset="1.0000" stop-color="#99fd00"/><stop offset="1.0000" stop-color="#99fd00"/></linearGradient><linearGradient id="g36" x1="0" y1="0" x2="0" y2="1"><stop offset="0.0000" stop-color="#4500fc"/><stop offset="0.2321" stop-color="#4500fc"/><stop offset="0.2321" stop-color="#0558fc"/><stop offset="0.3214" stop-color="#0558fc"/><stop offset="0.3214" stop-color="#3300fc"/><stop offset="0.6179" stop-color="#3300fc"/><stop offset="0.6202" stop-color="#0719fa"/><stop offset="0.6226" stop-color="#0489fd"/><stop offset="0.6250" stop-color="#00faff"/><stop offset="0.7607" stop-color="#00faf2"/><stop offset="0.7964" stop-color="#01e1fe"/><stop offset="1.0000" stop-color="#00fae6"/><stop offset="1.0000" stop-color="#00fae6"/></linearGradient><linearGradient id="g37" x1="0" y1="0" x2="0" y2="1"><stop offset="0.0000" stop-color="#4500fc"/><stop offset="0.2321" stop-color="#4500fc"/><stop offset="0.2321" stop-color="#0558fc"/><stop offset="0.3214" stop-color="#0558fc"/><stop offset="0.3214" stop-color="#3300fc"/><stop offset="0.6179" stop-color="#3300fc"/><stop offset="0.6202" stop-color="#0719fa"/><stop offset="0.6226" stop-color="#0489fd"/><stop offset="0.6250" stop-color="#00faff"/><stop offset="0.7607" stop-color="#00faf2"/><stop offset="0.7964" stop-color="#01e1fe"/><stop offset="1.0000" stop-color="#00fae6"/><stop offset="1.0000" stop-color="#00fae6"/></linearGradient><linearGradient id="g38" x1="0" y1="0" x2="0" y2="1"><stop offset="0.0000" stop-color="#3300fc"/><stop offset="0.1171" stop-color="#3300fc"/><stop offset="0.1293" stop-color="#5100fd"/><stop offset="0.2756" stop-color="#4500fc"/><stop offset="0.2817" stop-color="#0800fa"/><stop offset="0.2878" stop-color="#047dfc"/><stop offset="0.4707" stop-color="#047dfc"/><stop offset="0.4768" stop-color="#02bbfe"/><stop offset="0.4829" stop-color="#00faff"/><stop offset="0.5683" stop-color="#00fae6"/><stop offset="0.6415" stop-color="#00fa80"/><stop offset="0.7146" stop-color="#00fa1a"/><stop offset="0.9341" stop-color="#1afa00"/><stop offset="0.9585" stop-color="#7ffc00"/><stop offset="1.0000" stop-color="#7ffc00"/><stop offset="1.0000" stop-color="#7ffc00"/></linearGradient><linearGradient id="g39" x1="0" y1="0" x2="0" y2="1"><stop offset="0.0000" stop-color="#3300fc"/><stop offset="0.1171" stop-color="#3300fc"/><stop offset="0.1293" stop-color="#5100fd"/><stop offset="0.2756" stop-color="#4500fc"/><stop offset="0.2817" stop-color="#0800fa"/><stop offset="0.2878" stop-color="#047dfc"/><stop offset="0.4707" stop-color="#047dfc"/><stop offset="0.4768" stop-color="#02bbfe"/><stop offset="0.4829" stop-color="#00faff"/><stop offset="0.5683" stop-color="#00fae6"/><stop offset="0.6415" stop-color="#00fa80"/><stop offset="0.7146" stop-color="#00fa1a"/><stop offset="0.9341" stop-color="#1afa00"/><stop offset="0.9585" stop-color="#7ffc00"/><stop offset="1.0000" stop-color="#7ffc00"/><stop offset="1.0000" stop-color="#7ffc00"/></linearGradient><linearGradient id="g40" x1="0" y1="0" x2="0" y2="1"><stop offset="0.0000" stop-color="#3300fc"/><stop offset="0.1171" stop-color="#3300fc"/><stop offset="0.1293" stop-color="#5100fd"/><stop offset="0.2756" stop-color="#4500fc"/><stop offset="0.2817" stop-color="#0800fa"/><stop offset="0.2878" stop-color="#047dfc"/><stop offset="0.4707" stop-color="#047dfc"/><stop offset="0.4768" stop-color="#02bbfe"/><stop offset="0.4829" stop-color="#00faff"/><stop offset="0.5683" stop-color="#00fae6"/><stop offset="0.6415" stop-color="#00fa80"/><stop offset="0.7146" stop-color="#00fa1a"/><stop offset="0.9341" stop-color="#1afa00"/><stop offset="0.9585" stop-color="#7ffc00"/><stop offset="1.0000" stop-color="#7ffc00"/><stop offset="1.0000" stop-color="#7ffc00"/></linearGradient><linearGradient id="g41" x1="0" y1="0" x2="0" y2="1"><stop offset="0.0000" stop-color="#2700fb"/><stop offset="0.1244" stop-color="#2700fb"/><stop offset="0.1244" stop-color="#0396fd"/><stop offset="0.2390" stop-color="#0396fd"/><stop offset="0.2390" stop-color="#0558fc"/><stop offset="0.2756" stop-color="#0558fc"/><stop offset="0.2756" stop-color="#03a2fd"/><stop offset="0.3244" stop-color="#03a2fd"/><stop offset="0.3366" stop-color="#00faff"/><stop offset="0.4098" stop-color="#00fabf"/><stop offset="0.4280" stop-color="#00fa80"/><stop offset="0.4463" stop-color="#00fa40"/><stop offset="0.5683" stop-color="#00fa00"/><stop offset="0.6902" stop-color="#4dfc00"/><stop offset="0.7878" stop-color="#a6fd00"/><stop offset="0.9098" stop-color="#f2ff00"/><stop offset="0.9585" stop-color="#ffc600"/><stop offset="1.0000" stop-color="#ffc600"/><stop offset="1.0000" stop-color="#ffc600"/></linearGradient><linearGradient id="g42" x1="0" y1="0" x2="0" y2="1"><stop offset="0.0000" stop-color="#2700fb"/><stop offset="0.1244" stop-color="#2700fb"/><stop offset="0.1244" stop-color="#0396fd"/><stop offset="0.2390" stop-color="#0396fd"/><stop offset="0.2390" stop-color="#0558fc"/><stop offset="0.2756" stop-color="#0558fc"/><stop offset="0.2756" stop-color="#03a2fd"/><stop offset="0.3244" stop-color="#03a2fd"/><stop offset="0.3366" stop-color="#00faff"/><stop offset="0.4098" stop-color="#00fabf"/><stop offset="0.4280" stop-color="#00fa80"/><stop offset="0.4463" stop-color="#00fa40"/><stop offset="0.5683" stop-color="#00fa00"/><stop offset="0.6902" stop-color="#4dfc00"/><stop offset="0.7878" stop-color="#a6fd00"/><stop offset="0.9098" stop-color="#f2ff00"/><stop offset="0.9585" stop-color="#ffc600"/><stop offset="1.0000" stop-color="#ffc600"/><stop offset="1.0000" stop-color="#ffc600"/></linearGradient><linearGradient id="g43" x1="0" y1="0" x2="0" y2="1"><stop offset="0.0000" stop-color="#b2fe00"/><stop offset="0.0208" stop-color="#ffff00"/><stop offset="0.0524" stop-color="#ffff00"/><stop offset="0.0660" stop-color="#ffc600"/><stop offset="0.0976" stop-color="#ffaf00"/><stop offset="0.1112" stop-color="#ff9800"/><stop offset="0.1293" stop-color="#ffba00"/><stop offset="0.1383" stop-color="#ff5700"/><stop offset="0.1609" stop-color="#ff3d00"/><stop offset="0.1926" stop-color="#ff4a00"/><stop offset="0.2016" stop-color="#ff0800"/><stop offset="0.4774" stop-color="#ff0800"/><stop offset="0.4864" stop-color="#ff3d00"/><stop offset="0.5090" stop-color="#ff6400"/><stop offset="0.5407" stop-color="#ff8c00"/><stop offset="0.5588" stop-color="#ffff00"/><stop offset="0.5769" stop-color="#99fd00"/><stop offset="0.6040" stop-color="#26fb00"/><stop offset="0.6673" stop-color="#00fa1a"/><stop offset="0.7052" stop-color="#00fa80"/><stop offset="0.7116" stop-color="#00faec"/><stop offset="0.7179" stop-color="#03a2fd"/><stop offset="0.7306" stop-color="#047dfc"/><stop offset="0.7667" stop-color="#047dfc"/><stop offset="0.7712" stop-color="#01e1fe"/><stop offset="0.7984" stop-color="#01e1fe"/><stop offset="0.8006" stop-color="#0471fc"/><stop offset="0.8029" stop-color="#0800fa"/><stop offset="0.8481" stop-color="#0800fa"/><stop offset="0.8481" stop-color="#047dfc"/><stop offset="0.8752" stop-color="#047dfc"/><stop offset="0.8752" stop-color="#0558fc"/><stop offset="0.9024" stop-color="#0558fc"/><stop offset="0.9046" stop-color="#039cfd"/><stop offset="0.9069" stop-color="#01e1fe"/><stop offset="0.9430" stop-color="#01e1fe"/><stop offset="0.9453" stop-color="#0471fc"/><stop offset="0.9476" stop-color="#0800fa"/><stop offset="0.9973" stop-color="#3300fc"/><stop offset="1.0000" stop-color="#3300fc"/></linearGradient><linearGradient id="g44" x1="0" y1="0" x2="0" y2="1"><stop offset="0.0000" stop-color="#ff8c00"/><stop offset="0.0477" stop-color="#ff7200"/><stop offset="0.0559" stop-color="#ff2200"/><stop offset="0.0641" stop-color="#ff0800"/><stop offset="0.4753" stop-color="#ff0800"/><stop offset="0.4819" stop-color="#ff5700"/><stop offset="0.5041" stop-color="#ff6400"/><stop offset="0.5070" stop-color="#ffb400"/><stop offset="0.5099" stop-color="#ffff00"/><stop offset="0.5411" stop-color="#e5fe00"/><stop offset="0.5658" stop-color="#7ffc00"/><stop offset="0.6069" stop-color="#40fb00"/><stop offset="0.6414" stop-color="#00fa00"/><stop offset="0.6472" stop-color="#00fa73"/><stop offset="0.6530" stop-color="#00fae6"/><stop offset="0.6727" stop-color="#00faff"/><stop offset="0.6891" stop-color="#01d4fe"/><stop offset="0.7056" stop-color="#00facc"/><stop offset="0.7673" stop-color="#00fabf"/><stop offset="0.7695" stop-color="#02c4fe"/><stop offset="0.7717" stop-color="#054ffc"/><stop offset="0.7738" stop-color="#1a00fb"/><stop offset="0.7961" stop-color="#3900fc"/><stop offset="0.8372" stop-color="#1a00fb"/><stop offset="0.8392" stop-color="#072cfb"/><stop offset="0.8413" stop-color="#047dfc"/><stop offset="0.8577" stop-color="#047dfc"/><stop offset="0.8618" stop-color="#063efb"/><stop offset="0.8906" stop-color="#063efb"/><stop offset="0.8947" stop-color="#0558fc"/><stop offset="0.9276" stop-color="#0558fc"/><stop offset="0.9317" stop-color="#1400fa"/><stop offset="0.9729" stop-color="#1400fa"/><stop offset="0.9770" stop-color="#4500fc"/><stop offset="1.0000" stop-color="#4500fc"/><stop offset="1.0000" stop-color="#4500fc"/></linearGradient><linearGradient id="g45" x1="0" y1="0" x2="0" y2="1"><stop offset="0.0000" stop-color="#b2fe00"/><stop offset="0.0337" stop-color="#ffff00"/><stop offset="0.0691" stop-color="#ffe800"/><stop offset="0.0824" stop-color="#ffa300"/><stop offset="0.1223" stop-color="#ff8c00"/><stop offset="0.1578" stop-color="#ff6400"/><stop offset="0.1800" stop-color="#ff3000"/><stop offset="0.1933" stop-color="#ff0800"/><stop offset="0.4592" stop-color="#ff0800"/><stop offset="0.4725" stop-color="#ff4a00"/><stop offset="0.4770" stop-color="#ff7f00"/><stop offset="0.5124" stop-color="#ff8c00"/><stop offset="0.5168" stop-color="#ffd100"/><stop offset="0.5390" stop-color="#ffff00"/><stop offset="0.5457" stop-color="#bffe00"/><stop offset="0.5523" stop-color="#7ffc00"/><stop offset="0.5656" stop-color="#1afa00"/><stop offset="0.6543" stop-color="#00fa1a"/><stop offset="0.6915" stop-color="#00fa66"/><stop offset="0.6956" stop-color="#00fac4"/><stop offset="0.6998" stop-color="#01d9fe"/><stop offset="0.7039" stop-color="#047dfc"/><stop offset="0.7163" stop-color="#0632fb"/><stop offset="0.7562" stop-color="#0632fb"/><stop offset="0.7589" stop-color="#0396fd"/><stop offset="0.7784" stop-color="#0396fd"/><stop offset="0.7793" stop-color="#0638fb"/><stop offset="0.7801" stop-color="#1a00fb"/><stop offset="0.7917" stop-color="#1a00fb"/><stop offset="0.7930" stop-color="#072cfb"/><stop offset="0.7943" stop-color="#047dfc"/><stop offset="0.8138" stop-color="#047dfc"/><stop offset="0.8160" stop-color="#080cfa"/><stop offset="0.8183" stop-color="#3900fc"/><stop offset="0.8715" stop-color="#3900fc"/><stop offset="0.8728" stop-color="#0b00fa"/><stop offset="0.8741" stop-color="#0558fc"/><stop offset="0.8865" stop-color="#0558fc"/><stop offset="0.8879" stop-color="#1100fa"/><stop offset="0.8892" stop-color="#4500fc"/><stop offset="0.9557" stop-color="#4500fc"/><stop offset="0.9557" stop-color="#0800fa"/><stop offset="1.0000" stop-color="#0800fa"/><stop offset="1.0000" stop-color="#0800fa"/></linearGradient><linearGradient id="g46" x1="0" y1="0" x2="0" y2="1"><stop offset="0.0000" stop-color="#00fa00"/><stop offset="0.0590" stop-color="#1afa00"/><stop offset="0.0850" stop-color="#7ffc00"/><stop offset="0.1197" stop-color="#f2ff00"/><stop offset="0.1500" stop-color="#fff400"/><stop offset="0.1631" stop-color="#ffaf00"/><stop offset="0.1761" stop-color="#ff6400"/><stop offset="0.1977" stop-color="#ff6400"/><stop offset="0.2108" stop-color="#ff8c00"/><stop offset="0.2411" stop-color="#ff8c00"/><stop offset="0.2480" stop-color="#ff0800"/><stop offset="0.4406" stop-color="#ff0800"/><stop offset="0.4493" stop-color="#ff5700"/><stop offset="0.4753" stop-color="#ff6400"/><stop offset="0.4883" stop-color="#ff9800"/><stop offset="0.5143" stop-color="#ffa300"/><stop offset="0.5273" stop-color="#ffff00"/><stop offset="0.5403" stop-color="#bffe00"/><stop offset="0.5533" stop-color="#7ffc00"/><stop offset="0.5707" stop-color="#1afa00"/><stop offset="0.6054" stop-color="#00fa1a"/><stop offset="0.6314" stop-color="#00fa99"/><stop offset="0.6765" stop-color="#00facc"/><stop offset="0.6886" stop-color="#02c8fe"/><stop offset="0.6990" stop-color="#02c8fe"/><stop offset="0.6990" stop-color="#1400fa"/><stop offset="0.7207" stop-color="#1400fa"/><stop offset="0.7207" stop-color="#02bbfe"/><stop offset="0.7407" stop-color="#02bbfe"/><stop offset="0.7407" stop-color="#047dfc"/><stop offset="0.7624" stop-color="#047dfc"/><stop offset="0.7624" stop-color="#01e1fe"/><stop offset="0.7979" stop-color="#01e1fe"/><stop offset="0.7979" stop-color="#0558fc"/><stop offset="0.8144" stop-color="#0558fc"/><stop offset="0.8144" stop-color="#02bbfe"/><stop offset="0.8361" stop-color="#02bbfe"/><stop offset="0.8361" stop-color="#0558fc"/><stop offset="0.8534" stop-color="#0558fc"/><stop offset="0.8534" stop-color="#0396fd"/><stop offset="0.8682" stop-color="#0396fd"/><stop offset="0.8682" stop-color="#1400fa"/><stop offset="0.9072" stop-color="#1400fa"/><stop offset="0.9072" stop-color="#3900fc"/><stop offset="1.0000" stop-color="#3900fc"/><stop offset="1.0000" stop-color="#3900fc"/></linearGradient><linearGradient id="g47" x1="0" y1="0" x2="0" y2="1"><stop offset="0.0000" stop-color="#00fa00"/><stop offset="0.0880" stop-color="#1afa00"/><stop offset="0.1230" stop-color="#99fd00"/><stop offset="0.1380" stop-color="#f2ff00"/><stop offset="0.1780" stop-color="#fff400"/><stop offset="0.2030" stop-color="#ffaf00"/><stop offset="0.2230" stop-color="#ff6400"/><stop offset="0.2530" stop-color="#ff4a00"/><stop offset="0.2600" stop-color="#ff0800"/><stop offset="0.5280" stop-color="#ff0800"/><stop offset="0.5380" stop-color="#ff5700"/><stop offset="0.5980" stop-color="#ff8c00"/><stop offset="0.6130" stop-color="#ffd100"/><stop offset="0.6205" stop-color="#e5fe00"/><stop offset="0.6280" stop-color="#99fd00"/><stop offset="0.6580" stop-color="#26fb00"/><stop offset="0.7380" stop-color="#00fa1a"/><stop offset="0.7730" stop-color="#00fa80"/><stop offset="0.7800" stop-color="#00fa80"/><stop offset="0.7870" stop-color="#00faf2"/><stop offset="0.7940" stop-color="#0396fd"/><stop offset="0.8080" stop-color="#0558fc"/><stop offset="0.8540" stop-color="#0558fc"/><stop offset="0.8540" stop-color="#1a00fb"/><stop offset="0.8790" stop-color="#1a00fb"/><stop offset="0.8790" stop-color="#0558fc"/><stop offset="0.9390" stop-color="#0558fc"/><stop offset="0.9390" stop-color="#1a00fb"/><stop offset="0.9830" stop-color="#1a00fb"/><stop offset="0.9830" stop-color="#4500fc"/><stop offset="1.0000" stop-color="#4500fc"/><stop offset="1.0000" stop-color="#4500fc"/></linearGradient><linearGradient id="g48" x1="0" y1="0" x2="0" y2="1"><stop offset="0.0000" stop-color="#0558fc"/><stop offset="0.6000" stop-color="#0558fc"/><stop offset="0.6000" stop-color="#5700fd"/><stop offset="1.0000" stop-color="#5700fd"/><stop offset="1.0000" stop-color="#5700fd"/></linearGradient><linearGradient id="g49" x1="0" y1="0" x2="0" y2="1"><stop offset="0.0000" stop-color="#5100fd"/><stop offset="0.0731" stop-color="#5100fd"/><stop offset="0.0731" stop-color="#1a00fb"/><stop offset="0.1901" stop-color="#1a00fb"/><stop offset="0.1901" stop-color="#0800fa"/><stop offset="0.3012" stop-color="#0800fa"/><stop offset="0.3051" stop-color="#055cfc"/><stop offset="0.3090" stop-color="#02b7fe"/><stop offset="0.3129" stop-color="#00fae6"/><stop offset="0.4240" stop-color="#00fa80"/><stop offset="0.5409" stop-color="#00fa1a"/><stop offset="0.7749" stop-color="#1afa00"/><stop offset="0.8918" stop-color="#66fc00"/><stop offset="1.0000" stop-color="#7ffc00"/><stop offset="1.0000" stop-color="#7ffc00"/></linearGradient><linearGradient id="g50" x1="0" y1="0" x2="0" y2="1"><stop offset="0.0000" stop-color="#7600fe"/><stop offset="0.0937" stop-color="#6a00fe"/><stop offset="0.1405" stop-color="#3300fc"/><stop offset="0.1639" stop-color="#0800fa"/><stop offset="0.2459" stop-color="#0800fa"/><stop offset="0.2576" stop-color="#063efb"/><stop offset="0.3044" stop-color="#063efb"/><stop offset="0.3044" stop-color="#0396fd"/><stop offset="0.4098" stop-color="#0396fd"/><stop offset="0.4133" stop-color="#01e7ff"/><stop offset="0.4169" stop-color="#00fabf"/><stop offset="0.5386" stop-color="#00fab2"/><stop offset="0.5504" stop-color="#00fa6c"/><stop offset="0.5621" stop-color="#00fa26"/><stop offset="0.6792" stop-color="#1afa00"/><stop offset="0.7963" stop-color="#7ffc00"/><stop offset="0.8665" stop-color="#b2fe00"/><stop offset="0.8899" stop-color="#ffff00"/><stop offset="0.9133" stop-color="#ffaf00"/><stop offset="1.0000" stop-color="#ffa300"/><stop offset="1.0000" stop-color="#ffa300"/></linearGradient><linearGradient id="g51" x1="0" y1="0" x2="0" y2="1"><stop offset="0.0000" stop-color="#7600fe"/><stop offset="0.4778" stop-color="#5100fd"/><stop offset="0.5056" stop-color="#1d00fb"/><stop offset="0.5333" stop-color="#063efb"/><stop offset="0.9778" stop-color="#063efb"/><stop offset="1.0000" stop-color="#063efb"/></linearGradient><linearGradient id="g52" x1="0" y1="0" x2="0" y2="1"><stop offset="0.0000" stop-color="#1400fa"/><stop offset="0.2568" stop-color="#1400fa"/><stop offset="0.2568" stop-color="#064bfc"/><stop offset="0.3463" stop-color="#064bfc"/><stop offset="0.3463" stop-color="#02c8fe"/><stop offset="0.4358" stop-color="#02c8fe"/><stop offset="0.4475" stop-color="#00fabf"/><stop offset="0.5447" stop-color="#00fa59"/><stop offset="1.0000" stop-color="#00fa1a"/><stop offset="1.0000" stop-color="#00fa1a"/></linearGradient><linearGradient id="g53" x1="0" y1="0" x2="0" y2="1"><stop offset="0.0000" stop-color="#5d00fe"/><stop offset="0.1536" stop-color="#5d00fe"/><stop offset="0.1536" stop-color="#2700fb"/><stop offset="0.2357" stop-color="#2700fb"/><stop offset="0.2357" stop-color="#047dfc"/><stop offset="0.3179" stop-color="#047dfc"/><stop offset="0.3179" stop-color="#00faff"/><stop offset="0.4821" stop-color="#00faff"/><stop offset="0.4821" stop-color="#0558fc"/><stop offset="0.6250" stop-color="#0558fc"/><stop offset="0.6304" stop-color="#02c8fe"/><stop offset="0.6357" stop-color="#00fabf"/><stop offset="1.0000" stop-color="#00fa80"/><stop offset="1.0000" stop-color="#00fa80"/></linearGradient><linearGradient id="g54" x1="0" y1="0" x2="0" y2="1"><stop offset="0.0000" stop-color="#5d00fe"/><stop offset="0.1536" stop-color="#5d00fe"/><stop offset="0.1536" stop-color="#2700fb"/><stop offset="0.2357" stop-color="#2700fb"/><stop offset="0.2357" stop-color="#047dfc"/><stop offset="0.3179" stop-color="#047dfc"/><stop offset="0.3179" stop-color="#00faff"/><stop offset="0.4821" stop-color="#00faff"/><stop offset="0.4821" stop-color="#0558fc"/><stop offset="0.6250" stop-color="#0558fc"/><stop offset="0.6304" stop-color="#02c8fe"/><stop offset="0.6357" stop-color="#00fabf"/><stop offset="1.0000" stop-color="#00fa80"/><stop offset="1.0000" stop-color="#00fa80"/></linearGradient><linearGradient id="g55" x1="0" y1="0" x2="0" y2="1"><stop offset="0.0000" stop-color="#4b00fd"/><stop offset="0.1536" stop-color="#4b00fd"/><stop offset="0.1536" stop-color="#0719fa"/><stop offset="0.2357" stop-color="#0719fa"/><stop offset="0.2357" stop-color="#1a00fb"/><stop offset="0.3179" stop-color="#1a00fb"/><stop offset="0.3179" stop-color="#047dfc"/><stop offset="0.4821" stop-color="#047dfc"/><stop offset="0.4821" stop-color="#01d4fe"/><stop offset="0.6143" stop-color="#01d4fe"/><stop offset="0.6143" stop-color="#047dfc"/><stop offset="0.6964" stop-color="#047dfc"/><stop offset="0.7018" stop-color="#01dbfe"/><stop offset="0.7071" stop-color="#00fabf"/><stop offset="1.0000" stop-color="#00fa80"/><stop offset="1.0000" stop-color="#00fa80"/></linearGradient><linearGradient id="g56" x1="0" y1="0" x2="0" y2="1"><stop offset="0.0000" stop-color="#4b00fd"/><stop offset="0.1536" stop-color="#4b00fd"/><stop offset="0.1536" stop-color="#0719fa"/><stop offset="0.2357" stop-color="#0719fa"/><stop offset="0.2357" stop-color="#1a00fb"/><stop offset="0.3179" stop-color="#1a00fb"/><stop offset="0.3179" stop-color="#047dfc"/><stop offset="0.4821" stop-color="#047dfc"/><stop offset="0.4821" stop-color="#01d4fe"/><stop offset="0.6143" stop-color="#01d4fe"/><stop offset="0.6143" stop-color="#047dfc"/><stop offset="0.6964" stop-color="#047dfc"/><stop offset="0.7018" stop-color="#01dbfe"/><stop offset="0.7071" stop-color="#00fabf"/><stop offset="1.0000" stop-color="#00fa80"/><stop offset="1.0000" stop-color="#00fa80"/></linearGradient><linearGradient id="g57" x1="0" y1="0" x2="0" y2="1"><stop offset="0.0000" stop-color="#4b00fd"/><stop offset="0.1536" stop-color="#4b00fd"/><stop offset="0.1536" stop-color="#0719fa"/><stop offset="0.2357" stop-color="#0719fa"/><stop offset="0.2357" stop-color="#1a00fb"/><stop offset="0.3179" stop-color="#1a00fb"/><stop offset="0.3179" stop-color="#047dfc"/><stop offset="0.4821" stop-color="#047dfc"/><stop offset="0.4821" stop-color="#01d4fe"/><stop offset="0.6143" stop-color="#01d4fe"/><stop offset="0.6143" stop-color="#047dfc"/><stop offset="0.6964" stop-color="#047dfc"/><stop offset="0.7018" stop-color="#01dbfe"/><stop offset="0.7071" stop-color="#00fabf"/><stop offset="1.0000" stop-color="#00fa80"/><stop offset="1.0000" stop-color="#00fa80"/></linearGradient><linearGradient id="g58" x1="0" y1="0" x2="0" y2="1"><stop offset="0.0000" stop-color="#3300fc"/><stop offset="0.3561" stop-color="#1a00fb"/><stop offset="0.3561" stop-color="#047dfc"/><stop offset="0.5833" stop-color="#0396fd"/><stop offset="0.8485" stop-color="#047dfc"/><stop offset="0.8485" stop-color="#4500fc"/><stop offset="1.0000" stop-color="#4500fc"/><stop offset="1.0000" stop-color="#4500fc"/></linearGradient><linearGradient id="g59" x1="0" y1="0" x2="0" y2="1"><stop offset="0.0000" stop-color="#2700fb"/><stop offset="0.2074" stop-color="#2700fb"/><stop offset="0.2074" stop-color="#00faf2"/><stop offset="0.5037" stop-color="#00fad9"/><stop offset="0.8370" stop-color="#00faf2"/><stop offset="0.8370" stop-color="#2700fb"/><stop offset="1.0000" stop-color="#2700fb"/><stop offset="1.0000" stop-color="#2700fb"/></linearGradient><linearGradient id="g60" x1="0" y1="0" x2="0" y2="1"><stop offset="0.0000" stop-color="#7000fe"/><stop offset="0.0647" stop-color="#7000fe"/><stop offset="0.0647" stop-color="#5100fd"/><stop offset="0.1570" stop-color="#2700fb"/><stop offset="0.1570" stop-color="#00faff"/><stop offset="0.2032" stop-color="#00faff"/><stop offset="0.2032" stop-color="#00fa40"/><stop offset="0.2333" stop-color="#00fa00"/><stop offset="0.2610" stop-color="#00fa00"/><stop offset="0.2610" stop-color="#99fd00"/><stop offset="0.3187" stop-color="#e5fe00"/><stop offset="0.3187" stop-color="#ffa300"/><stop offset="0.3995" stop-color="#ffa300"/><stop offset="0.3995" stop-color="#e5fe00"/><stop offset="0.4457" stop-color="#b2fe00"/><stop offset="0.4457" stop-color="#00fa00"/><stop offset="0.4804" stop-color="#00fa26"/><stop offset="0.4804" stop-color="#00fabf"/><stop offset="0.5081" stop-color="#00fae6"/><stop offset="0.5081" stop-color="#2700fb"/><stop offset="0.5958" stop-color="#2700fb"/><stop offset="0.5958" stop-color="#01d4fe"/><stop offset="0.6420" stop-color="#01d4fe"/><stop offset="0.6420" stop-color="#00fa80"/><stop offset="0.6767" stop-color="#00fa00"/><stop offset="0.6998" stop-color="#7ffc00"/><stop offset="0.6998" stop-color="#ff3000"/><stop offset="0.7921" stop-color="#ff3000"/><stop offset="0.7921" stop-color="#ffff00"/><stop offset="0.8845" stop-color="#e5fe00"/><stop offset="0.8845" stop-color="#00fa00"/><stop offset="0.9307" stop-color="#00fa26"/><stop offset="0.9307" stop-color="#00fae6"/><stop offset="0.9538" stop-color="#00faff"/><stop offset="0.9538" stop-color="#3300fc"/><stop offset="1.0000" stop-color="#3300fc"/><stop offset="1.0000" stop-color="#3300fc"/></linearGradient><linearGradient id="g61" x1="0" y1="0" x2="0" y2="1"><stop offset="0.0000" stop-color="#5d00fe"/><stop offset="0.1444" stop-color="#4500fc"/><stop offset="0.1444" stop-color="#2700fb"/><stop offset="0.1975" stop-color="#2700fb"/><stop offset="0.1975" stop-color="#00fa80"/><stop offset="0.2399" stop-color="#00fa40"/><stop offset="0.4204" stop-color="#00fa40"/><stop offset="0.4204" stop-color="#4500fc"/><stop offset="0.6008" stop-color="#4500fc"/><stop offset="0.6008" stop-color="#00fa26"/><stop offset="0.8662" stop-color="#00fa26"/><stop offset="0.8662" stop-color="#6400fe"/><stop offset="1.0000" stop-color="#6400fe"/><stop offset="1.0000" stop-color="#6400fe"/></linearGradient><linearGradient id="g62" x1="0" y1="0" x2="0" y2="1"><stop offset="0.0000" stop-color="#6a00fe"/><stop offset="0.3556" stop-color="#6a00fe"/><stop offset="0.3556" stop-color="#3900fc"/><stop offset="0.5222" stop-color="#3900fc"/><stop offset="0.5222" stop-color="#6a00fe"/><stop offset="1.0000" stop-color="#6a00fe"/><stop offset="1.0000" stop-color="#6a00fe"/></linearGradient><linearGradient id="g63" x1="0" y1="0" x2="0" y2="1"><stop offset="0.0000" stop-color="#7000fe"/><stop offset="0.2385" stop-color="#7000fe"/><stop offset="0.2385" stop-color="#1400fa"/><stop offset="0.3670" stop-color="#1400fa"/><stop offset="0.3670" stop-color="#0800fa"/><stop offset="0.6193" stop-color="#0800fa"/><stop offset="0.6193" stop-color="#047dfc"/><stop offset="0.7248" stop-color="#047dfc"/><stop offset="0.7248" stop-color="#5d00fe"/><stop offset="1.0000" stop-color="#5d00fe"/><stop offset="1.0000" stop-color="#5d00fe"/></linearGradient><linearGradient id="g64" x1="0" y1="0" x2="0" y2="1"><stop offset="0.0000" stop-color="#2700fb"/><stop offset="0.0922" stop-color="#2700fb"/><stop offset="0.0922" stop-color="#00faff"/><stop offset="0.1176" stop-color="#00faff"/><stop offset="0.1176" stop-color="#00fa26"/><stop offset="0.1569" stop-color="#1afa00"/><stop offset="0.1569" stop-color="#ffff00"/><stop offset="0.2020" stop-color="#ffff00"/><stop offset="0.2020" stop-color="#ff7f00"/><stop offset="0.3039" stop-color="#ff7f00"/><stop offset="0.3039" stop-color="#7ffc00"/><stop offset="0.3471" stop-color="#4dfc00"/><stop offset="0.3471" stop-color="#00fa40"/><stop offset="0.3627" stop-color="#00fa80"/><stop offset="0.3627" stop-color="#00faff"/><stop offset="0.4804" stop-color="#00faff"/><stop offset="0.4804" stop-color="#00fa40"/><stop offset="0.5098" stop-color="#00fa1a"/><stop offset="0.5098" stop-color="#7ffc00"/><stop offset="0.5490" stop-color="#bffe00"/><stop offset="0.5490" stop-color="#ff4a00"/><stop offset="0.5882" stop-color="#ff3000"/><stop offset="0.5882" stop-color="#ff0800"/><stop offset="0.6961" stop-color="#ff0800"/><stop offset="0.6961" stop-color="#ff7200"/><stop offset="0.7843" stop-color="#ff7200"/><stop offset="0.7843" stop-color="#ffff00"/><stop offset="0.8039" stop-color="#bffe00"/><stop offset="0.8039" stop-color="#00fa40"/><stop offset="0.8490" stop-color="#00fa80"/><stop offset="0.8490" stop-color="#00faff"/><stop offset="0.9020" stop-color="#00faff"/><stop offset="0.9020" stop-color="#2700fb"/><stop offset="0.9412" stop-color="#2700fb"/><stop offset="0.9412" stop-color="#6400fe"/><stop offset="1.0000" stop-color="#6400fe"/><stop offset="1.0000" stop-color="#6400fe"/></linearGradient><linearGradient id="g65" x1="0" y1="0" x2="0" y2="1"><stop offset="0.0000" stop-color="#2700fb"/><stop offset="0.1304" stop-color="#2700fb"/><stop offset="0.1304" stop-color="#00fa80"/><stop offset="0.4022" stop-color="#00fa80"/><stop offset="0.4022" stop-color="#2700fb"/><stop offset="0.5326" stop-color="#2700fb"/><stop offset="0.5326" stop-color="#00fa80"/><stop offset="0.9413" stop-color="#00fa80"/><stop offset="0.9413" stop-color="#2700fb"/><stop offset="1.0000" stop-color="#2700fb"/><stop offset="1.0000" stop-color="#2700fb"/></linearGradient><linearGradient id="g66" x1="0" y1="0" x2="0" y2="1"><stop offset="0.0000" stop-color="#047dfc"/><stop offset="0.2667" stop-color="#047dfc"/><stop offset="0.2667" stop-color="#2700fb"/><stop offset="0.4667" stop-color="#2700fb"/><stop offset="0.4667" stop-color="#6a00fe"/><stop offset="1.0000" stop-color="#6a00fe"/><stop offset="1.0000" stop-color="#6a00fe"/></linearGradient><linearGradient id="g67" x1="0" y1="0" x2="0" y2="1"><stop offset="0.0000" stop-color="#5100fd"/><stop offset="0.1708" stop-color="#5100fd"/><stop offset="0.1708" stop-color="#063efb"/><stop offset="0.2119" stop-color="#063efb"/><stop offset="0.2119" stop-color="#00faff"/><stop offset="0.2531" stop-color="#00fabf"/><stop offset="0.2531" stop-color="#00fa26"/><stop offset="0.2942" stop-color="#00fa00"/><stop offset="0.2942" stop-color="#66fc00"/><stop offset="0.3765" stop-color="#66fc00"/><stop offset="0.3765" stop-color="#00fa40"/><stop offset="0.4177" stop-color="#00fa80"/><stop offset="0.4177" stop-color="#03a2fd"/><stop offset="0.4588" stop-color="#047dfc"/><stop offset="0.4588" stop-color="#3900fc"/><stop offset="0.5309" stop-color="#3900fc"/><stop offset="0.5309" stop-color="#02bbfe"/><stop offset="0.5823" stop-color="#00faff"/><stop offset="0.5823" stop-color="#00fa26"/><stop offset="0.6235" stop-color="#1afa00"/><stop offset="0.6235" stop-color="#e5fe00"/><stop offset="0.6646" stop-color="#ffe800"/><stop offset="0.6646" stop-color="#ffba00"/><stop offset="0.8086" stop-color="#ffba00"/><stop offset="0.8086" stop-color="#7ffc00"/><stop offset="0.8395" stop-color="#4dfc00"/><stop offset="0.8395" stop-color="#00fa40"/><stop offset="0.8909" stop-color="#00fa80"/><stop offset="0.8909" stop-color="#03a2fd"/><stop offset="0.9321" stop-color="#047dfc"/><stop offset="0.9321" stop-color="#2700fb"/><stop offset="1.0000" stop-color="#2700fb"/><stop offset="1.0000" stop-color="#2700fb"/></linearGradient><linearGradient id="g68" x1="0" y1="0" x2="0" y2="1"><stop offset="0.0000" stop-color="#4500fc"/><stop offset="0.1928" stop-color="#4500fc"/><stop offset="0.1928" stop-color="#00faff"/><stop offset="0.3373" stop-color="#00faff"/><stop offset="0.3373" stop-color="#3900fc"/><stop offset="0.5301" stop-color="#3900fc"/><stop offset="0.5301" stop-color="#00fa80"/><stop offset="0.9036" stop-color="#00fa80"/><stop offset="0.9036" stop-color="#2700fb"/><stop offset="1.0000" stop-color="#2700fb"/><stop offset="1.0000" stop-color="#2700fb"/></linearGradient><linearGradient id="g69" x1="0" y1="0" x2="0" y2="1"><stop offset="0.0000" stop-color="#1400fa"/><stop offset="0.1393" stop-color="#1400fa"/><stop offset="0.1393" stop-color="#047dfc"/><stop offset="0.3134" stop-color="#047dfc"/><stop offset="0.3134" stop-color="#0800fa"/><stop offset="0.4129" stop-color="#0800fa"/><stop offset="0.4129" stop-color="#4500fc"/><stop offset="1.0000" stop-color="#4500fc"/><stop offset="1.0000" stop-color="#4500fc"/></linearGradient><linearGradient id="g70" x1="0" y1="0" x2="0" y2="1"><stop offset="0.0000" stop-color="#ff0800"/><stop offset="0.0909" stop-color="#ff8000"/><stop offset="0.1818" stop-color="#ffea00"/><stop offset="0.2727" stop-color="#a2fd00"/><stop offset="0.3636" stop-color="#2efb00"/><stop offset="0.4545" stop-color="#00fa46"/><stop offset="0.5455" stop-color="#00fab9"/><stop offset="0.6364" stop-color="#01cdfe"/><stop offset="0.7273" stop-color="#055bfc"/><stop offset="0.8182" stop-color="#1300fa"/><stop offset="0.9091" stop-color="#4b00fd"/><stop offset="1.0000" stop-color="#8200ff"/></linearGradient><linearGradient id="g71" x1="0" y1="0" x2="0" y2="1"><stop offset="0.0000" stop-color="#ff0800"/><stop offset="0.0909" stop-color="#ff8000"/><stop offset="0.1818" stop-color="#ffea00"/><stop offset="0.2727" stop-color="#a2fd00"/><stop offset="0.3636" stop-color="#2efb00"/><stop offset="0.4545" stop-color="#00fa46"/><stop offset="0.5455" stop-color="#00fab9"/><stop offset="0.6364" stop-color="#01cdfe"/><stop offset="0.7273" stop-color="#055bfc"/><stop offset="0.8182" stop-color="#1300fa"/><stop offset="0.9091" stop-color="#4b00fd"/><stop offset="1.0000" stop-color="#8200ff"/></linearGradient></defs>
<rect x="375.2" y="333.1" width="52.7" height="114.5" fill="url(#g1)"/>
<rect x="375.2" y="450.2" width="52.7" height="2.5" fill="#2d00fc"/>
<rect x="375.2" y="455" width="52.7" height="3.5" fill="#6400fe"/>
<rect x="375.2" y="461.1" width="52.7" height="2.4" fill="#4500fc"/>
<rect x="375.2" y="469" width="52.7" height="11.5" fill="url(#g2)"/>
<rect x="435.9" y="333.1" width="55.8" height="119.3" fill="url(#g3)"/>
<rect x="435.9" y="461.1" width="55.8" height="2.4" fill="#5100fd"/>
<rect x="435.9" y="469" width="55.8" height="3.7" fill="#6a00fe"/>
<rect x="435.9" y="477.2" width="55.8" height="9.4" fill="url(#g4)"/>
<rect x="500" y="333.1" width="55.9" height="119.6" fill="url(#g5)"/>
<rect x="500" y="455" width="55.9" height="3.5" fill="#3900fc"/>
<rect x="500" y="461.1" width="55.9" height="5.6" fill="#1a00fb"/>
<rect x="500" y="477" width="55.9" height="3.8" fill="#6400fe"/>
<rect x="500" y="486" width="55.9" height="2.7" fill="#6a00fe"/>
<rect x="566.2" y="333.1" width="56.6" height="130.4" fill="url(#g6)"/>
<rect x="566.2" y="466.1" width="56.6" height="6.5" fill="#5100fd"/>
<rect x="566.2" y="475.3" width="56.6" height="8.5" fill="url(#g7)"/>
<rect x="375.2" y="294.1" width="36.6" height="3.7" fill="#7600fe"/>
<rect x="375.2" y="302.1" width="36.6" height="9.4" fill="url(#g8)"/>
<rect x="375.2" y="313.1" width="36.6" height="17.6" fill="url(#g9)"/>
<rect x="416.1" y="294.1" width="6.8" height="3.7" fill="#7600fe"/>
<rect x="416.1" y="302.1" width="6.8" height="9.4" fill="url(#g10)"/>
<rect x="416.1" y="313.1" width="6.8" height="17.6" fill="url(#g11)"/>
<rect x="430.2" y="294.1" width="56.7" height="8.5" fill="#7600fe"/>
<rect x="430.2" y="305" width="56.7" height="6.5" fill="url(#g12)"/>
<rect x="430.2" y="313.1" width="56.7" height="17.6" fill="url(#g13)"/>
<rect x="497.1" y="286.2" width="52.8" height="2.7" fill="#7000fe"/>
<rect x="497.1" y="311.3" width="52.8" height="19.5" fill="url(#g14)"/>
<rect x="563.2" y="272.1" width="53.7" height="8.8" fill="#7c00ff"/>
<rect x="563.2" y="286" width="53.7" height="44.7" fill="url(#g15)"/>
<rect x="633.2" y="333.1" width="53.6" height="133.3" fill="url(#g16)"/>
<rect x="633.2" y="469" width="53.6" height="3.7" fill="#2700fb"/>
<rect x="633.2" y="477.2" width="53.6" height="3.5" fill="#5d00fe"/>
<rect x="633.2" y="483.1" width="53.6" height="3.5" fill="#0800fa"/>
<rect x="633.2" y="490.9" width="53.6" height="1" fill="#6400fe"/>
<rect x="694.2" y="333.1" width="58.5" height="122.6" fill="url(#g17)"/>
<rect x="694.2" y="458" width="58.5" height="5.5" fill="url(#g18)"/>
<rect x="694.2" y="466.1" width="58.5" height="3.7" fill="#0800fa"/>
<rect x="694.2" y="472" width="58.5" height="16.3" fill="url(#g19)"/>
<rect x="761.3" y="333.1" width="58.5" height="155.5" fill="url(#g20)"/>
<rect x="761.3" y="490.9" width="58.5" height="1" fill="#6400fe"/>
<rect x="827.3" y="333.1" width="59.5" height="119.7" fill="url(#g21)"/>
<rect x="827.3" y="455" width="59.5" height="8.8" fill="#7000fe"/>
<rect x="827.3" y="469" width="59.5" height="3.7" fill="#4500fc"/>
<rect x="827.3" y="475.3" width="59.5" height="2.4" fill="#4500fc"/>
<rect x="827.3" y="480.2" width="59.5" height="3.5" fill="#3300fc"/>
<rect x="827.3" y="488.1" width="59.5" height="3.9" fill="#6a00fe"/>
<rect x="627.1" y="280.2" width="56.8" height="3.7" fill="#2700fb"/>
<rect x="627.1" y="286" width="56.8" height="44.7" fill="url(#g22)"/>
<rect x="691.1" y="254.9" width="8.8" height="3.9" fill="#6a00fe"/>
<rect x="691.1" y="274.9" width="8.8" height="2.9" fill="#5700fd"/>
<rect x="691.1" y="286" width="8.8" height="44.7" fill="url(#g23)"/>
<rect x="702.1" y="254.9" width="47.8" height="3.9" fill="#6a00fe"/>
<rect x="702.1" y="274.9" width="47.8" height="2.9" fill="#5700fd"/>
<rect x="702.1" y="286" width="47.8" height="44.7" fill="url(#g24)"/>
<rect x="758" y="266" width="14.8" height="3.7" fill="#6400fe"/>
<rect x="758" y="274.9" width="14.8" height="55.8" fill="url(#g25)"/>
<rect x="777.2" y="266" width="39.6" height="3.7" fill="#6400fe"/>
<rect x="777.2" y="274.9" width="39.6" height="55.8" fill="url(#g26)"/>
<rect x="822" y="272.1" width="25.9" height="5.7" fill="#7c00ff"/>
<rect x="822" y="286" width="25.9" height="2.9" fill="#7000fe"/>
<rect x="822" y="297.1" width="25.9" height="33.6" fill="url(#g27)"/>
<rect x="850.1" y="272.1" width="30.7" height="5.7" fill="#7c00ff"/>
<rect x="850.1" y="286" width="30.7" height="2.9" fill="#7000fe"/>
<rect x="850.1" y="297.1" width="30.7" height="33.6" fill="url(#g28)"/>
<rect x="894.1" y="333.1" width="58.5" height="155.5" fill="url(#g29)"/>
<rect x="894.1" y="490.9" width="58.5" height="1" fill="#6400fe"/>
<rect x="958.2" y="333.1" width="58.5" height="114.7" fill="url(#g30)"/>
<rect x="958.2" y="450.2" width="58.5" height="11.4" fill="url(#g31)"/>
<rect x="958.2" y="466.1" width="58.5" height="3.5" fill="#4500fc"/>
<rect x="958.2" y="480.1" width="58.5" height="3.7" fill="#6400fe"/>
<rect x="1025.2" y="333.1" width="58.5" height="144.5" fill="url(#g32)"/>
<rect x="1025.2" y="480.1" width="58.5" height="3.7" fill="#3900fc"/>
<rect x="1025.2" y="486.1" width="58.5" height="2.6" fill="#4500fc"/>
<rect x="1025.2" y="490.9" width="58.5" height="1" fill="#5d00fe"/>
<rect x="1091.2" y="333.1" width="58.5" height="158.9" fill="url(#g33)"/>
<rect x="888" y="207.9" width="31.8" height="3.9" fill="#7600fe"/>
<rect x="888" y="277.2" width="31.8" height="53.6" fill="url(#g34)"/>
<rect x="925.2" y="207.9" width="22.6" height="3.9" fill="#7600fe"/>
<rect x="925.2" y="277.2" width="22.6" height="53.6" fill="url(#g35)"/>
<rect x="955.3" y="260.9" width="39.6" height="2.9" fill="#5100fd"/>
<rect x="955.3" y="277.2" width="39.6" height="3.7" fill="#6a00fe"/>
<rect x="955.3" y="286" width="39.6" height="5.9" fill="#5700fd"/>
<rect x="955.3" y="294.1" width="39.6" height="36.6" fill="url(#g36)"/>
<rect x="997.2" y="260.9" width="16.6" height="2.9" fill="#5100fd"/>
<rect x="997.2" y="277.2" width="16.6" height="3.7" fill="#6a00fe"/>
<rect x="997.2" y="286" width="16.6" height="5.9" fill="#5700fd"/>
<rect x="997.2" y="294.1" width="16.6" height="36.6" fill="url(#g37)"/>
<rect x="1022.2" y="277.2" width="39.6" height="53.6" fill="url(#g38)"/>
<rect x="1063.1" y="277.2" width="6.5" height="53.6" fill="url(#g39)"/>
<rect x="1072.2" y="277.2" width="8.5" height="53.6" fill="url(#g40)"/>
<rect x="1088.2" y="277.2" width="45.5" height="53.6" fill="url(#g41)"/>
<rect x="1138.2" y="277.2" width="9.5" height="53.6" fill="url(#g42)"/>
<rect x="1158.2" y="333.1" width="58.5" height="144.5" fill="url(#g43)"/>
<rect x="1158.2" y="480.1" width="58.5" height="3.7" fill="#0558fc"/>
<rect x="1158.2" y="486.1" width="58.5" height="2.6" fill="#0632fb"/>
<rect x="1225.2" y="333.1" width="52.5" height="158.9" fill="url(#g44)"/>
<rect x="1288.2" y="333.1" width="56.6" height="147.4" fill="url(#g45)"/>
<rect x="1288.2" y="486.4" width="56.6" height="5.6" fill="#4500fc"/>
<rect x="1352.4" y="333.1" width="59.3" height="150.7" fill="url(#g46)"/>
<rect x="1352.4" y="486.4" width="59.3" height="5.6" fill="#4500fc"/>
<rect x="1416.3" y="333.1" width="53.6" height="130.7" fill="url(#g47)"/>
<rect x="1416.3" y="466.1" width="53.6" height="6.5" fill="url(#g48)"/>
<rect x="1416.3" y="477" width="53.6" height="3.8" fill="#6400fe"/>
<rect x="1151.9" y="274.9" width="57" height="2.9" fill="#5700fd"/>
<rect x="1151.9" y="280.2" width="57" height="3.7" fill="#6a00fe"/>
<rect x="1151.9" y="286" width="57" height="44.7" fill="url(#g49)"/>
<rect x="1219.1" y="274.9" width="55.8" height="55.8" fill="url(#g50)"/>
<rect x="1286" y="283" width="52.9" height="11.8" fill="url(#g51)"/>
<rect x="1286" y="297.1" width="52.9" height="33.6" fill="url(#g52)"/>
<rect x="1352.1" y="277.2" width="3.8" height="3.7" fill="#5100fd"/>
<rect x="1352.1" y="286" width="3.8" height="5.9" fill="#5100fd"/>
<rect x="1352.1" y="294.1" width="3.8" height="36.6" fill="url(#g53)"/>
<rect x="1358.1" y="277.2" width="47.8" height="3.7" fill="#5100fd"/>
<rect x="1358.1" y="286" width="47.8" height="5.9" fill="#5100fd"/>
<rect x="1358.1" y="294.1" width="47.8" height="36.6" fill="url(#g54)"/>
<rect x="1413" y="280.2" width="9.8" height="3.7" fill="#5100fd"/>
<rect x="1413" y="288" width="9.8" height="3.9" fill="#4500fc"/>
<rect x="1413" y="294.1" width="9.8" height="36.6" fill="url(#g55)"/>
<rect x="1425.2" y="280.2" width="5.9" height="3.7" fill="#5100fd"/>
<rect x="1425.2" y="288" width="5.9" height="3.9" fill="#4500fc"/>
<rect x="1425.2" y="294.1" width="5.9" height="36.6" fill="url(#g56)"/>
<rect x="1433.3" y="280.2" width="36.6" height="3.7" fill="#5100fd"/>
<rect x="1433.3" y="288" width="36.6" height="3.9" fill="#4500fc"/>
<rect x="1433.3" y="294.1" width="36.6" height="36.6" fill="url(#g57)"/>
<rect x="375.2" y="630.1" width="85.8" height="3.7" fill="#7000fe"/>
<rect x="375.2" y="641.4" width="85.8" height="17.2" fill="url(#g58)"/>
<rect x="375.2" y="666" width="85.8" height="17.6" fill="url(#g59)"/>
<rect x="375.2" y="786" width="85.8" height="2.9" fill="#6400fe"/>
<rect x="461" y="630.1" width="194.4" height="56.6" fill="url(#g60)"/>
<rect x="461" y="688" width="194.4" height="3.7" fill="#7000fe"/>
<rect x="461" y="716.1" width="194.4" height="3.7" fill="#6a00fe"/>
<rect x="655.4" y="630.1" width="5.9" height="61.5" fill="url(#g61)"/>
<rect x="661.3" y="619" width="194" height="3.7" fill="#6a00fe"/>
<rect x="661.3" y="633.1" width="194" height="3.7" fill="#6a00fe"/>
<rect x="661.3" y="644" width="194" height="11.8" fill="url(#g62)"/>
<rect x="661.3" y="657.9" width="194" height="3.7" fill="#6a00fe"/>
<rect x="661.3" y="663.2" width="194" height="28.5" fill="url(#g63)"/>
<rect x="656.1" y="633.1" width="5.2" height="3.7" fill="#6a00fe"/>
<rect x="855.4" y="611" width="194.6" height="2.8" fill="#6a00fe"/>
<rect x="855.4" y="630.4" width="194.6" height="72.3" fill="url(#g64)"/>
<rect x="855.4" y="719.2" width="194.6" height="3.7" fill="#6400fe"/>
<rect x="855.4" y="769.3" width="194.6" height="3.5" fill="#6400fe"/>
<rect x="855.4" y="800.2" width="194.6" height="5.7" fill="#7600fe"/>
<rect x="1050" y="630.4" width="2.8" height="65.2" fill="url(#g65)"/>
<rect x="1052.4" y="625.1" width="195.6" height="2.8" fill="#6400fe"/>
<rect x="1052.4" y="658" width="195.6" height="4" fill="#6a00fe"/>
<rect x="1052.4" y="663" width="195.6" height="3.8" fill="#5d00fe"/>
<rect x="1052.4" y="670.1" width="195.6" height="10.6" fill="url(#g66)"/>
<rect x="1052.4" y="686.1" width="195.6" height="2.7" fill="#5d00fe"/>
<rect x="1052.4" y="694.2" width="195.6" height="2.1" fill="#5d00fe"/>
<rect x="1052.4" y="719.2" width="195.6" height="3.7" fill="#6400fe"/>
<rect x="1050.3" y="705.1" width="197.7" height="3.7" fill="#5d00fe"/>
<rect x="1050.3" y="727.2" width="197.7" height="3.5" fill="#5d00fe"/>
<rect x="1247.2" y="619.1" width="194.4" height="3.8" fill="#6a00fe"/>
<rect x="1247.2" y="627.1" width="194.4" height="68.9" fill="url(#g67)"/>
<rect x="1247.2" y="703.1" width="194.4" height="2.8" fill="#6400fe"/>
<rect x="1247.2" y="711.2" width="194.4" height="2.8" fill="#5d00fe"/>
<rect x="1247.2" y="716.1" width="194.4" height="3.8" fill="#6a00fe"/>
<rect x="1247.2" y="722.1" width="194.4" height="2.8" fill="#5100fd"/>
<rect x="1247.2" y="752.3" width="194.4" height="3.5" fill="#6a00fe"/>
<rect x="1247.2" y="794.1" width="194.4" height="3.8" fill="#7000fe"/>
<rect x="1244" y="647.1" width="3.3" height="5.7" fill="#5700fd"/>
<rect x="1244" y="667.2" width="3.3" height="16.3" fill="#4500fc"/>
<rect x="1441.7" y="636.1" width="3.1" height="58.8" fill="url(#g68)"/>
<rect x="1444.8" y="644.1" width="25.2" height="28.5" fill="url(#g69)"/>
<rect x="1444.8" y="738.4" width="25.2" height="6.4" fill="#6400fe"/>
<rect x="1441.7" y="625.1" width="28.3" height="2.8" fill="#5100fd"/>
<rect x="1441.7" y="761.2" width="28.3" height="2.7" fill="#6400fe"/>
<rect x="1441.7" y="766.1" width="28.3" height="3.8" fill="#6400fe"/>
<line x1="372" y1="436.1" x2="1472" y2="436.1" stroke="#000" stroke-width="1.5"/>
<line x1="361" y1="194.4" x2="1484" y2="194.4" stroke="#000" stroke-width="3"/>
<line x1="363" y1="494.3" x2="1484" y2="494.3" stroke="#000" stroke-width="2"/>
<line x1="372" y1="194.4" x2="372" y2="494.3" stroke="#000" stroke-width="2"/>
<line x1="1472" y1="194.4" x2="1472" y2="494.3" stroke="#000" stroke-width="2"/>
<line x1="621.8" y1="194.4" x2="621.8" y2="205.9" stroke="#000" stroke-width="2.2"/>
<line x1="621.8" y1="494.3" x2="621.8" y2="482.8" stroke="#000" stroke-width="2.2"/>
<line x1="866.4" y1="194.4" x2="866.4" y2="205.9" stroke="#000" stroke-width="2.2"/>
<line x1="866.4" y1="494.3" x2="866.4" y2="482.8" stroke="#000" stroke-width="2.2"/>
<line x1="1110.9" y1="194.4" x2="1110.9" y2="205.9" stroke="#000" stroke-width="2.2"/>
<line x1="1110.9" y1="494.3" x2="1110.9" y2="482.8" stroke="#000" stroke-width="2.2"/>
<line x1="1355.2" y1="194.4" x2="1355.2" y2="205.9" stroke="#000" stroke-width="2.2"/>
<line x1="1355.2" y1="494.3" x2="1355.2" y2="482.8" stroke="#000" stroke-width="2.2"/>
<line x1="496.9" y1="194.4" x2="496.9" y2="202.4" stroke="#000" stroke-width="2.2"/>
<line x1="496.9" y1="494.3" x2="496.9" y2="486.3" stroke="#000" stroke-width="2.2"/>
<line x1="741.5" y1="194.4" x2="741.5" y2="202.4" stroke="#000" stroke-width="2.2"/>
<line x1="741.5" y1="494.3" x2="741.5" y2="486.3" stroke="#000" stroke-width="2.2"/>
<line x1="986" y1="194.4" x2="986" y2="202.4" stroke="#000" stroke-width="2.2"/>
<line x1="986" y1="494.3" x2="986" y2="486.3" stroke="#000" stroke-width="2.2"/>
<line x1="1230.3" y1="194.4" x2="1230.3" y2="202.4" stroke="#000" stroke-width="2.2"/>
<line x1="1230.3" y1="494.3" x2="1230.3" y2="486.3" stroke="#000" stroke-width="2.2"/>
<line x1="361" y1="494.6" x2="372" y2="494.6" stroke="#000" stroke-width="3.4"/>
<line x1="363" y1="472" x2="372" y2="472" stroke="#000" stroke-width="2.4"/>
<line x1="363" y1="458.8" x2="372" y2="458.8" stroke="#000" stroke-width="2.4"/>
<line x1="363" y1="449.4" x2="372" y2="449.4" stroke="#000" stroke-width="2.4"/>
<line x1="363" y1="442.2" x2="372" y2="442.2" stroke="#000" stroke-width="2.4"/>
<line x1="363" y1="436.2" x2="372" y2="436.2" stroke="#000" stroke-width="2.4"/>
<line x1="363" y1="431.2" x2="372" y2="431.2" stroke="#000" stroke-width="2.4"/>
<line x1="363" y1="426.9" x2="372" y2="426.9" stroke="#000" stroke-width="2.4"/>
<line x1="363" y1="423" x2="372" y2="423" stroke="#000" stroke-width="2.4"/>
<line x1="361" y1="419.6" x2="372" y2="419.6" stroke="#000" stroke-width="3.4"/>
<line x1="363" y1="397" x2="372" y2="397" stroke="#000" stroke-width="2.4"/>
<line x1="363" y1="383.8" x2="372" y2="383.8" stroke="#000" stroke-width="2.4"/>
<line x1="363" y1="374.4" x2="372" y2="374.4" stroke="#000" stroke-width="2.4"/>
<line x1="363" y1="367.2" x2="372" y2="367.2" stroke="#000" stroke-width="2.4"/>
<line x1="363" y1="361.2" x2="372" y2="361.2" stroke="#000" stroke-width="2.4"/>
<line x1="363" y1="356.2" x2="372" y2="356.2" stroke="#000" stroke-width="2.4"/>
<line x1="363" y1="351.9" x2="372" y2="351.9" stroke="#000" stroke-width="2.4"/>
<line x1="363" y1="348" x2="372" y2="348" stroke="#000" stroke-width="2.4"/>
<line x1="361" y1="344.6" x2="372" y2="344.6" stroke="#000" stroke-width="3.4"/>
<line x1="363" y1="322" x2="372" y2="322" stroke="#000" stroke-width="2.4"/>
<line x1="363" y1="308.8" x2="372" y2="308.8" stroke="#000" stroke-width="2.4"/>
<line x1="363" y1="299.4" x2="372" y2="299.4" stroke="#000" stroke-width="2.4"/>
<line x1="363" y1="292.2" x2="372" y2="292.2" stroke="#000" stroke-width="2.4"/>
<line x1="363" y1="286.2" x2="372" y2="286.2" stroke="#000" stroke-width="2.4"/>
<line x1="363" y1="281.2" x2="372" y2="281.2" stroke="#000" stroke-width="2.4"/>
<line x1="363" y1="276.9" x2="372" y2="276.9" stroke="#000" stroke-width="2.4"/>
<line x1="363" y1="273" x2="372" y2="273" stroke="#000" stroke-width="2.4"/>
<line x1="361" y1="269.6" x2="372" y2="269.6" stroke="#000" stroke-width="3.4"/>
<line x1="363" y1="247" x2="372" y2="247" stroke="#000" stroke-width="2.4"/>
<line x1="363" y1="233.8" x2="372" y2="233.8" stroke="#000" stroke-width="2.4"/>
<line x1="363" y1="224.4" x2="372" y2="224.4" stroke="#000" stroke-width="2.4"/>
<line x1="363" y1="217.2" x2="372" y2="217.2" stroke="#000" stroke-width="2.4"/>
<line x1="363" y1="211.2" x2="372" y2="211.2" stroke="#000" stroke-width="2.4"/>
<line x1="363" y1="206.2" x2="372" y2="206.2" stroke="#000" stroke-width="2.4"/>
<line x1="363" y1="201.9" x2="372" y2="201.9" stroke="#000" stroke-width="2.4"/>
<line x1="363" y1="198" x2="372" y2="198" stroke="#000" stroke-width="2.4"/>
<line x1="361" y1="194.6" x2="372" y2="194.6" stroke="#000" stroke-width="3.4"/>
<line x1="1472" y1="200" x2="1481" y2="200" stroke="#000" stroke-width="2"/>
<line x1="1472" y1="205.5" x2="1481" y2="205.5" stroke="#000" stroke-width="2"/>
<line x1="1472" y1="211.1" x2="1481" y2="211.1" stroke="#000" stroke-width="2"/>
<line x1="1472" y1="216.6" x2="1481" y2="216.6" stroke="#000" stroke-width="2"/>
<line x1="1472" y1="222.2" x2="1481" y2="222.2" stroke="#000" stroke-width="2"/>
<line x1="1472" y1="227.7" x2="1481" y2="227.7" stroke="#000" stroke-width="2"/>
<line x1="1472" y1="233.3" x2="1481" y2="233.3" stroke="#000" stroke-width="2"/>
<line x1="1472" y1="238.8" x2="1481" y2="238.8" stroke="#000" stroke-width="2"/>
<line x1="1472" y1="244.4" x2="1481" y2="244.4" stroke="#000" stroke-width="2"/>
<line x1="1472" y1="249.9" x2="1481" y2="249.9" stroke="#000" stroke-width="2"/>
<line x1="1472" y1="261.1" x2="1481" y2="261.1" stroke="#000" stroke-width="2"/>
<line x1="1472" y1="266.6" x2="1481" y2="266.6" stroke="#000" stroke-width="2"/>
<line x1="1472" y1="272.2" x2="1481" y2="272.2" stroke="#000" stroke-width="2"/>
<line x1="1472" y1="277.7" x2="1481" y2="277.7" stroke="#000" stroke-width="2"/>
<line x1="1472" y1="283.3" x2="1481" y2="283.3" stroke="#000" stroke-width="2"/>
<line x1="1472" y1="288.8" x2="1481" y2="288.8" stroke="#000" stroke-width="2"/>
<line x1="1472" y1="294.4" x2="1481" y2="294.4" stroke="#000" stroke-width="2"/>
<line x1="1472" y1="299.9" x2="1481" y2="299.9" stroke="#000" stroke-width="2"/>
<line x1="1472" y1="305.5" x2="1481" y2="305.5" stroke="#000" stroke-width="2"/>
<line x1="1472" y1="311.1" x2="1481" y2="311.1" stroke="#000" stroke-width="2"/>
<line x1="1472" y1="322.2" x2="1481" y2="322.2" stroke="#000" stroke-width="2"/>
<line x1="1472" y1="327.7" x2="1481" y2="327.7" stroke="#000" stroke-width="2"/>
<line x1="1472" y1="333.3" x2="1481" y2="333.3" stroke="#000" stroke-width="2"/>
<line x1="1472" y1="338.8" x2="1481" y2="338.8" stroke="#000" stroke-width="2"/>
<line x1="1472" y1="344.4" x2="1481" y2="344.4" stroke="#000" stroke-width="2"/>
<line x1="1472" y1="349.9" x2="1481" y2="349.9" stroke="#000" stroke-width="2"/>
<line x1="1472" y1="355.5" x2="1481" y2="355.5" stroke="#000" stroke-width="2"/>
<line x1="1472" y1="361" x2="1481" y2="361" stroke="#000" stroke-width="2"/>
<line x1="1472" y1="366.6" x2="1481" y2="366.6" stroke="#000" stroke-width="2"/>
<line x1="1472" y1="372.2" x2="1481" y2="372.2" stroke="#000" stroke-width="2"/>
<line x1="1472" y1="383.3" x2="1481" y2="383.3" stroke="#000" stroke-width="2"/>
<line x1="1472" y1="388.8" x2="1481" y2="388.8" stroke="#000" stroke-width="2"/>
<line x1="1472" y1="394.4" x2="1481" y2="394.4" stroke="#000" stroke-width="2"/>
<line x1="1472" y1="399.9" x2="1481" y2="399.9" stroke="#000" stroke-width="2"/>
<line x1="1472" y1="405.5" x2="1481" y2="405.5" stroke="#000" stroke-width="2"/>
<line x1="1472" y1="411" x2="1481" y2="411" stroke="#000" stroke-width="2"/>
<line x1="1472" y1="416.6" x2="1481" y2="416.6" stroke="#000" stroke-width="2"/>
<line x1="1472" y1="422.2" x2="1481" y2="422.2" stroke="#000" stroke-width="2"/>
<line x1="1472" y1="427.7" x2="1481" y2="427.7" stroke="#000" stroke-width="2"/>
<line x1="1472" y1="438.8" x2="1481" y2="438.8" stroke="#000" stroke-width="2"/>
<line x1="1472" y1="444.4" x2="1481" y2="444.4" stroke="#000" stroke-width="2"/>
<line x1="1472" y1="449.9" x2="1481" y2="449.9" stroke="#000" stroke-width="2"/>
<line x1="1472" y1="455.5" x2="1481" y2="455.5" stroke="#000" stroke-width="2"/>
<line x1="1472" y1="461" x2="1481" y2="461" stroke="#000" stroke-width="2"/>
<line x1="1472" y1="466.6" x2="1481" y2="466.6" stroke="#000" stroke-width="2"/>
<line x1="1472" y1="472.1" x2="1481" y2="472.1" stroke="#000" stroke-width="2"/>
<line x1="1472" y1="477.7" x2="1481" y2="477.7" stroke="#000" stroke-width="2"/>
<line x1="1472" y1="483.3" x2="1481" y2="483.3" stroke="#000" stroke-width="2"/>
<line x1="1472" y1="488.8" x2="1481" y2="488.8" stroke="#000" stroke-width="2"/>
<line x1="1472" y1="194.4" x2="1484" y2="194.4" stroke="#000" stroke-width="2.6"/>
<line x1="1472" y1="254.7" x2="1484" y2="254.7" stroke="#000" stroke-width="2.6"/>
<line x1="1472" y1="315.1" x2="1484" y2="315.1" stroke="#000" stroke-width="2.6"/>
<line x1="1472" y1="375.4" x2="1484" y2="375.4" stroke="#000" stroke-width="2.6"/>
<line x1="1472" y1="435.7" x2="1484" y2="435.7" stroke="#000" stroke-width="2.6"/>
<text x="345.5" y="199.2" font-size="15" text-anchor="end" fill="#000">10</text>
<text x="346" y="192.4" font-size="9.5" text-anchor="start" fill="#000">4</text>
<text x="345.5" y="274.2" font-size="15" text-anchor="end" fill="#000">10</text>
<text x="346" y="267.4" font-size="9.5" text-anchor="start" fill="#000">3</text>
<text x="345.5" y="349.2" font-size="15" text-anchor="end" fill="#000">10</text>
<text x="346" y="342.4" font-size="9.5" text-anchor="start" fill="#000">2</text>
<text x="345.5" y="424.2" font-size="15" text-anchor="end" fill="#000">10</text>
<text x="346" y="417.4" font-size="9.5" text-anchor="start" fill="#000">1</text>
<text x="1488.8" y="200.1" font-size="16.3" text-anchor="start" fill="#000">4</text>
<text x="1488.8" y="260.4" font-size="16.3" text-anchor="start" fill="#000">3</text>
<text x="1488.8" y="320.8" font-size="16.3" text-anchor="start" fill="#000">2</text>
<text x="1488.8" y="381.1" font-size="16.3" text-anchor="start" fill="#000">1</text>
<text x="1488.8" y="441.4" font-size="16.3" text-anchor="start" fill="#000">0</text>
<text x="372.5" y="158.1" font-size="22" text-anchor="start" fill="#000">MEx ELS-04 LR</text>
<text x="372.5" y="186.1" font-size="22" text-anchor="start" fill="#000">MEx ELS-04 HR</text>
<text x="281.1" y="344" font-size="22" text-anchor="middle" fill="#000" transform="rotate(-90 281.1 344)">Electron Energy</text>
<text x="303" y="344.2" font-size="22" text-anchor="middle" fill="#000" transform="rotate(-90 303 344.2)">eV</text>
<text x="1600.2" y="345.2" font-size="22" text-anchor="middle" fill="#000" transform="rotate(90 1600.2 345.2)">Sensor Data</text>
<text x="1578.3" y="345.2" font-size="22" text-anchor="middle" fill="#000" transform="rotate(90 1578.3 345.2)">Sun/Surface/MEx</text>
<text x="1556.1" y="345.2" font-size="22" text-anchor="middle" fill="#000" transform="rotate(90 1556.1 345.2)">Flag</text>
<text x="1533.1" y="345.2" font-size="22" text-anchor="middle" fill="#000" transform="rotate(90 1533.1 345.2)">unitless</text>
<line x1="372" y1="696.8" x2="1472" y2="696.8" stroke="#000" stroke-width="1.5"/>
<line x1="361" y1="547" x2="1484" y2="547" stroke="#000" stroke-width="2.2"/>
<line x1="363" y1="844.7" x2="1484" y2="844.7" stroke="#000" stroke-width="3"/>
<line x1="372" y1="547" x2="372" y2="844.7" stroke="#000" stroke-width="2"/>
<line x1="1472" y1="547" x2="1472" y2="844.7" stroke="#000" stroke-width="2"/>
<line x1="621.8" y1="547" x2="621.8" y2="558.5" stroke="#000" stroke-width="2.2"/>
<line x1="621.8" y1="844.7" x2="621.8" y2="833.2" stroke="#000" stroke-width="2.2"/>
<line x1="866.4" y1="547" x2="866.4" y2="558.5" stroke="#000" stroke-width="2.2"/>
<line x1="866.4" y1="844.7" x2="866.4" y2="833.2" stroke="#000" stroke-width="2.2"/>
<line x1="1110.9" y1="547" x2="1110.9" y2="558.5" stroke="#000" stroke-width="2.2"/>
<line x1="1110.9" y1="844.7" x2="1110.9" y2="833.2" stroke="#000" stroke-width="2.2"/>
<line x1="1355.2" y1="547" x2="1355.2" y2="558.5" stroke="#000" stroke-width="2.2"/>
<line x1="1355.2" y1="844.7" x2="1355.2" y2="833.2" stroke="#000" stroke-width="2.2"/>
<line x1="496.9" y1="547" x2="496.9" y2="555" stroke="#000" stroke-width="2.2"/>
<line x1="496.9" y1="844.7" x2="496.9" y2="836.7" stroke="#000" stroke-width="2.2"/>
<line x1="741.5" y1="547" x2="741.5" y2="555" stroke="#000" stroke-width="2.2"/>
<line x1="741.5" y1="844.7" x2="741.5" y2="836.7" stroke="#000" stroke-width="2.2"/>
<line x1="986" y1="547" x2="986" y2="555" stroke="#000" stroke-width="2.2"/>
<line x1="986" y1="844.7" x2="986" y2="836.7" stroke="#000" stroke-width="2.2"/>
<line x1="1230.3" y1="547" x2="1230.3" y2="555" stroke="#000" stroke-width="2.2"/>
<line x1="1230.3" y1="844.7" x2="1230.3" y2="836.7" stroke="#000" stroke-width="2.2"/>
<line x1="363" y1="838.4" x2="372" y2="838.4" stroke="#000" stroke-width="2.4"/>
<line x1="363" y1="833.4" x2="372" y2="833.4" stroke="#000" stroke-width="2.4"/>
<line x1="363" y1="829" x2="372" y2="829" stroke="#000" stroke-width="2.4"/>
<line x1="363" y1="825.2" x2="372" y2="825.2" stroke="#000" stroke-width="2.4"/>
<line x1="361" y1="821.8" x2="372" y2="821.8" stroke="#000" stroke-width="3.4"/>
<line x1="363" y1="798.5" x2="372" y2="798.5" stroke="#000" stroke-width="2.4"/>
<line x1="363" y1="784.9" x2="372" y2="784.9" stroke="#000" stroke-width="2.4"/>
<line x1="363" y1="775.2" x2="372" y2="775.2" stroke="#000" stroke-width="2.4"/>
<line x1="363" y1="767.7" x2="372" y2="767.7" stroke="#000" stroke-width="2.4"/>
<line x1="363" y1="761.6" x2="372" y2="761.6" stroke="#000" stroke-width="2.4"/>
<line x1="363" y1="756.4" x2="372" y2="756.4" stroke="#000" stroke-width="2.4"/>
<line x1="363" y1="751.9" x2="372" y2="751.9" stroke="#000" stroke-width="2.4"/>
<line x1="363" y1="747.9" x2="372" y2="747.9" stroke="#000" stroke-width="2.4"/>
<line x1="361" y1="744.4" x2="372" y2="744.4" stroke="#000" stroke-width="3.4"/>
<line x1="363" y1="722" x2="372" y2="722" stroke="#000" stroke-width="2.4"/>
<line x1="363" y1="708.9" x2="372" y2="708.9" stroke="#000" stroke-width="2.4"/>
<line x1="363" y1="699.5" x2="372" y2="699.5" stroke="#000" stroke-width="2.4"/>
<line x1="363" y1="692.3" x2="372" y2="692.3" stroke="#000" stroke-width="2.4"/>
<line x1="363" y1="686.4" x2="372" y2="686.4" stroke="#000" stroke-width="2.4"/>
<line x1="363" y1="681.4" x2="372" y2="681.4" stroke="#000" stroke-width="2.4"/>
<line x1="363" y1="677.1" x2="372" y2="677.1" stroke="#000" stroke-width="2.4"/>
<line x1="363" y1="673.3" x2="372" y2="673.3" stroke="#000" stroke-width="2.4"/>
<line x1="361" y1="669.9" x2="372" y2="669.9" stroke="#000" stroke-width="3.4"/>
<line x1="363" y1="647.4" x2="372" y2="647.4" stroke="#000" stroke-width="2.4"/>
<line x1="363" y1="634.2" x2="372" y2="634.2" stroke="#000" stroke-width="2.4"/>
<line x1="363" y1="624.8" x2="372" y2="624.8" stroke="#000" stroke-width="2.4"/>
<line x1="363" y1="617.5" x2="372" y2="617.5" stroke="#000" stroke-width="2.4"/>
<line x1="363" y1="611.6" x2="372" y2="611.6" stroke="#000" stroke-width="2.4"/>
<line x1="363" y1="606.6" x2="372" y2="606.6" stroke="#000" stroke-width="2.4"/>
<line x1="363" y1="602.3" x2="372" y2="602.3" stroke="#000" stroke-width="2.4"/>
<line x1="363" y1="598.4" x2="372" y2="598.4" stroke="#000" stroke-width="2.4"/>
<line x1="361" y1="595" x2="372" y2="595" stroke="#000" stroke-width="3.4"/>
<line x1="363" y1="569.7" x2="372" y2="569.7" stroke="#000" stroke-width="2.4"/>
<line x1="363" y1="554.9" x2="372" y2="554.9" stroke="#000" stroke-width="2.4"/>
<line x1="1472" y1="547" x2="1484" y2="547" stroke="#000" stroke-width="2.6"/>
<line x1="1472" y1="553" x2="1481" y2="553" stroke="#000" stroke-width="2"/>
<line x1="1472" y1="558.9" x2="1481" y2="558.9" stroke="#000" stroke-width="2"/>
<line x1="1472" y1="564.9" x2="1481" y2="564.9" stroke="#000" stroke-width="2"/>
<line x1="1472" y1="570.8" x2="1481" y2="570.8" stroke="#000" stroke-width="2"/>
<line x1="1472" y1="576.8" x2="1481" y2="576.8" stroke="#000" stroke-width="2"/>
<line x1="1472" y1="582.7" x2="1481" y2="582.7" stroke="#000" stroke-width="2"/>
<line x1="1472" y1="588.7" x2="1481" y2="588.7" stroke="#000" stroke-width="2"/>
<line x1="1472" y1="594.7" x2="1481" y2="594.7" stroke="#000" stroke-width="2"/>
<line x1="1472" y1="600.6" x2="1481" y2="600.6" stroke="#000" stroke-width="2"/>
<line x1="1472" y1="606.6" x2="1484" y2="606.6" stroke="#000" stroke-width="2.6"/>
<line x1="1472" y1="612.5" x2="1481" y2="612.5" stroke="#000" stroke-width="2"/>
<line x1="1472" y1="618.5" x2="1481" y2="618.5" stroke="#000" stroke-width="2"/>
<line x1="1472" y1="624.5" x2="1481" y2="624.5" stroke="#000" stroke-width="2"/>
<line x1="1472" y1="630.4" x2="1481" y2="630.4" stroke="#000" stroke-width="2"/>
<line x1="1472" y1="636.4" x2="1481" y2="636.4" stroke="#000" stroke-width="2"/>
<line x1="1472" y1="642.3" x2="1481" y2="642.3" stroke="#000" stroke-width="2"/>
<line x1="1472" y1="648.3" x2="1481" y2="648.3" stroke="#000" stroke-width="2"/>
<line x1="1472" y1="654.2" x2="1481" y2="654.2" stroke="#000" stroke-width="2"/>
<line x1="1472" y1="660.2" x2="1481" y2="660.2" stroke="#000" stroke-width="2"/>
<line x1="1472" y1="666.2" x2="1484" y2="666.2" stroke="#000" stroke-width="2.6"/>
<line x1="1472" y1="672.1" x2="1481" y2="672.1" stroke="#000" stroke-width="2"/>
<line x1="1472" y1="678.1" x2="1481" y2="678.1" stroke="#000" stroke-width="2"/>
<line x1="1472" y1="684" x2="1481" y2="684" stroke="#000" stroke-width="2"/>
<line x1="1472" y1="690" x2="1481" y2="690" stroke="#000" stroke-width="2"/>
<line x1="1472" y1="696" x2="1481" y2="696" stroke="#000" stroke-width="2"/>
<line x1="1472" y1="701.9" x2="1481" y2="701.9" stroke="#000" stroke-width="2"/>
<line x1="1472" y1="707.9" x2="1481" y2="707.9" stroke="#000" stroke-width="2"/>
<line x1="1472" y1="713.8" x2="1481" y2="713.8" stroke="#000" stroke-width="2"/>
<line x1="1472" y1="719.8" x2="1481" y2="719.8" stroke="#000" stroke-width="2"/>
<line x1="1472" y1="725.7" x2="1484" y2="725.7" stroke="#000" stroke-width="2.6"/>
<line x1="1472" y1="731.7" x2="1481" y2="731.7" stroke="#000" stroke-width="2"/>
<line x1="1472" y1="737.7" x2="1481" y2="737.7" stroke="#000" stroke-width="2"/>
<line x1="1472" y1="743.6" x2="1481" y2="743.6" stroke="#000" stroke-width="2"/>
<line x1="1472" y1="749.6" x2="1481" y2="749.6" stroke="#000" stroke-width="2"/>
<line x1="1472" y1="755.5" x2="1481" y2="755.5" stroke="#000" stroke-width="2"/>
<line x1="1472" y1="761.5" x2="1481" y2="761.5" stroke="#000" stroke-width="2"/>
<line x1="1472" y1="767.4" x2="1481" y2="767.4" stroke="#000" stroke-width="2"/>
<line x1="1472" y1="773.4" x2="1481" y2="773.4" stroke="#000" stroke-width="2"/>
<line x1="1472" y1="779.4" x2="1481" y2="779.4" stroke="#000" stroke-width="2"/>
<line x1="1472" y1="785.3" x2="1484" y2="785.3" stroke="#000" stroke-width="2.6"/>
<line x1="1472" y1="791.3" x2="1481" y2="791.3" stroke="#000" stroke-width="2"/>
<line x1="1472" y1="797.2" x2="1481" y2="797.2" stroke="#000" stroke-width="2"/>
<line x1="1472" y1="803.2" x2="1481" y2="803.2" stroke="#000" stroke-width="2"/>
<line x1="1472" y1="809.2" x2="1481" y2="809.2" stroke="#000" stroke-width="2"/>
<line x1="1472" y1="815.1" x2="1481" y2="815.1" stroke="#000" stroke-width="2"/>
<line x1="1472" y1="821.1" x2="1481" y2="821.1" stroke="#000" stroke-width="2"/>
<line x1="1472" y1="827" x2="1481" y2="827" stroke="#000" stroke-width="2"/>
<line x1="1472" y1="833" x2="1481" y2="833" stroke="#000" stroke-width="2"/>
<line x1="1472" y1="838.9" x2="1481" y2="838.9" stroke="#000" stroke-width="2"/>
<text x="345.5" y="599.6" font-size="15" text-anchor="end" fill="#000">10</text>
<text x="346" y="592.8" font-size="9.5" text-anchor="start" fill="#000">4</text>
<text x="345.5" y="674.5" font-size="15" text-anchor="end" fill="#000">10</text>
<text x="346" y="667.7" font-size="9.5" text-anchor="start" fill="#000">3</text>
<text x="345.5" y="749" font-size="15" text-anchor="end" fill="#000">10</text>
<text x="346" y="742.2" font-size="9.5" text-anchor="start" fill="#000">2</text>
<text x="1488.8" y="552.7" font-size="16.3" text-anchor="start" fill="#000">9</text>
<text x="1488.8" y="612.3" font-size="16.3" text-anchor="start" fill="#000">7</text>
<text x="1488.8" y="671.9" font-size="16.3" text-anchor="start" fill="#000">5</text>
<text x="1488.8" y="731.4" font-size="16.3" text-anchor="start" fill="#000">3</text>
<text x="1488.8" y="791" font-size="16.3" text-anchor="start" fill="#000">1</text>
<text x="372.5" y="539.6" font-size="22" text-anchor="start" fill="#000">MEx IMA-00</text>
<text x="283.1" y="696.9" font-size="22" text-anchor="middle" fill="#000" transform="rotate(-90 283.1 696.9)">Electron Volts</text>
<text x="303" y="696.9" font-size="22" text-anchor="middle" fill="#000" transform="rotate(-90 303 696.9)">eV</text>
<text x="1597.4" y="697.3" font-size="22" text-anchor="middle" fill="#000" transform="rotate(90 1597.4 697.3)">Sensor Data</text>
<text x="1578.2" y="697.3" font-size="22" text-anchor="middle" fill="#000" transform="rotate(90 1578.2 697.3)">Boundary</text>
<text x="1556" y="697.3" font-size="22" text-anchor="middle" fill="#000" transform="rotate(90 1556 697.3)">Transitions</text>
<text x="1532.8" y="697.3" font-size="22" text-anchor="middle" fill="#000" transform="rotate(90 1532.8 697.3)">unitless</text>
<polyline fill="none" stroke="#000" stroke-width="2.3" stroke-linejoin="round" shape-rendering="geometricPrecision" points="380.5,899.9 392.9,899.9 396.8,902.9 412.5,902.9 416.4,905.2 430.8,905.2 438,911 455.6,911 458.9,914 475.2,914 478.5,916.6 494.1,916.6 497.4,919.2 517,919.2 519.6,922.1 536,922.1 539.2,927.7 555.5,927.7 558.2,930.3 579.1,930.3 583.6,933.3 597.4,933.3 602.6,938.8 618.3,938.8 621.5,941.4 636.6,941.4 641.1,944.3 656.8,944.3 662.7,949.8 680.9,949.8 683.5,953 700.9,953 702.7,955.6 719.2,955.6 724.5,961 741.9,961 744.5,963.6 761,963.6 763.7,969.5 781.1,969.5 783.7,971.8 800.2,971.8 806,977.2 821,977.2 827.2,980.5 842.1,980.5 847.3,985.7 862.1,985.7 865.6,988.9 882.1,988.9 889.1,994.5 906.5,994.5 908.3,996.7 924.8,996.7 928.3,1002.6 944.8,1002.6 947.5,1005.3 964.9,1005.3 971,1010.7 985.8,1010.7 991.9,1016.2 1005.8,1016.2 1010.2,1019.2 1025,1019.2 1030.2,1024.9 1045,1024.9 1052.8,1030.1 1068.7,1030.1 1072.5,1033.4 1089.3,1033.4 1091.2,1039 1109,1039 1114.6,1044.3 1128.7,1044.3 1134.3,1049.9 1150.2,1049.9 1153,1055.5 1169.9,1055.5 1172.7,1058.3 1189.5,1058.3 1196.1,1063.9 1209.2,1063.9 1216.7,1069.6 1230.7,1069.6 1237.3,1075 1251.3,1075 1258.8,1080.6 1271,1080.6 1277.5,1085.8 1294.4,1085.8 1297.2,1091.5 1314,1091.5 1316.9,1096.7 1333.7,1096.7 1337.5,1099.9 1353.4,1099.9 1355.3,1105.5 1372.1,1105.5 1377.7,1111.1 1392.7,1111.1 1397.4,1116.4 1414.3,1116.4 1417,1122 1433,1122 1441.4,1130.2 1455.5,1130.2 1461,1135.9 1472.3,1135.9"/>
<polyline fill="none" stroke="#8e1c1c" stroke-width="1.8" shape-rendering="geometricPrecision" points="380.5,977.9 1168.7,977.9 1170.4,976.4"/>
<polyline fill="none" stroke="#c81a0c" stroke-width="1.8" shape-rendering="geometricPrecision" points="1170.4,976.4 1172.1,974.9 1472.3,974.9"/>
<line x1="362.8" y1="869.8" x2="1489" y2="869.8" stroke="#000" stroke-width="3"/>
<line x1="362.8" y1="1163.4" x2="1489" y2="1163.4" stroke="#000" stroke-width="2"/>
<line x1="377.8" y1="869.8" x2="377.8" y2="1163.4" stroke="#000" stroke-width="2"/>
<line x1="1475" y1="869.8" x2="1475" y2="1163.4" stroke="#000" stroke-width="2"/>
<line x1="625" y1="869.8" x2="625" y2="881.3" stroke="#000" stroke-width="2.2"/>
<line x1="625" y1="1163.4" x2="625" y2="1151.9" stroke="#000" stroke-width="2.2"/>
<line x1="869.5" y1="869.8" x2="869.5" y2="881.3" stroke="#000" stroke-width="2.2"/>
<line x1="869.5" y1="1163.4" x2="869.5" y2="1151.9" stroke="#000" stroke-width="2.2"/>
<line x1="1113.7" y1="869.8" x2="1113.7" y2="881.3" stroke="#000" stroke-width="2.2"/>
<line x1="1113.7" y1="1163.4" x2="1113.7" y2="1151.9" stroke="#000" stroke-width="2.2"/>
<line x1="1358.6" y1="869.8" x2="1358.6" y2="881.3" stroke="#000" stroke-width="2.2"/>
<line x1="1358.6" y1="1163.4" x2="1358.6" y2="1151.9" stroke="#000" stroke-width="2.2"/>
<line x1="500.1" y1="869.8" x2="500.1" y2="877.8" stroke="#000" stroke-width="2.2"/>
<line x1="500.1" y1="1163.4" x2="500.1" y2="1155.4" stroke="#000" stroke-width="2.2"/>
<line x1="744.1" y1="869.8" x2="744.1" y2="877.8" stroke="#000" stroke-width="2.2"/>
<line x1="744.1" y1="1163.4" x2="744.1" y2="1155.4" stroke="#000" stroke-width="2.2"/>
<line x1="991.5" y1="869.8" x2="991.5" y2="877.8" stroke="#000" stroke-width="2.2"/>
<line x1="991.5" y1="1163.4" x2="991.5" y2="1155.4" stroke="#000" stroke-width="2.2"/>
<line x1="1236" y1="869.8" x2="1236" y2="877.8" stroke="#000" stroke-width="2.2"/>
<line x1="1236" y1="1163.4" x2="1236" y2="1155.4" stroke="#000" stroke-width="2.2"/>
<line x1="368.8" y1="873.7" x2="377.8" y2="873.7" stroke="#000" stroke-width="2"/>
<line x1="1475" y1="873.7" x2="1484" y2="873.7" stroke="#000" stroke-width="2"/>
<line x1="368.8" y1="877.6" x2="377.8" y2="877.6" stroke="#000" stroke-width="2"/>
<line x1="1475" y1="877.6" x2="1484" y2="877.6" stroke="#000" stroke-width="2"/>
<line x1="368.8" y1="881.5" x2="377.8" y2="881.5" stroke="#000" stroke-width="2"/>
<line x1="1475" y1="881.5" x2="1484" y2="881.5" stroke="#000" stroke-width="2"/>
<line x1="368.8" y1="885.5" x2="377.8" y2="885.5" stroke="#000" stroke-width="2"/>
<line x1="1475" y1="885.5" x2="1484" y2="885.5" stroke="#000" stroke-width="2"/>
<line x1="368.8" y1="889.4" x2="377.8" y2="889.4" stroke="#000" stroke-width="2"/>
<line x1="1475" y1="889.4" x2="1484" y2="889.4" stroke="#000" stroke-width="2"/>
<line x1="368.8" y1="893.3" x2="377.8" y2="893.3" stroke="#000" stroke-width="2"/>
<line x1="1475" y1="893.3" x2="1484" y2="893.3" stroke="#000" stroke-width="2"/>
<line x1="368.8" y1="897.2" x2="377.8" y2="897.2" stroke="#000" stroke-width="2"/>
<line x1="1475" y1="897.2" x2="1484" y2="897.2" stroke="#000" stroke-width="2"/>
<line x1="368.8" y1="901.1" x2="377.8" y2="901.1" stroke="#000" stroke-width="2"/>
<line x1="1475" y1="901.1" x2="1484" y2="901.1" stroke="#000" stroke-width="2"/>
<line x1="368.8" y1="905" x2="377.8" y2="905" stroke="#000" stroke-width="2"/>
<line x1="1475" y1="905" x2="1484" y2="905" stroke="#000" stroke-width="2"/>
<line x1="368.8" y1="908.9" x2="377.8" y2="908.9" stroke="#000" stroke-width="2"/>
<line x1="1475" y1="908.9" x2="1484" y2="908.9" stroke="#000" stroke-width="2"/>
<line x1="368.8" y1="912.9" x2="377.8" y2="912.9" stroke="#000" stroke-width="2"/>
<line x1="1475" y1="912.9" x2="1484" y2="912.9" stroke="#000" stroke-width="2"/>
<line x1="368.8" y1="916.8" x2="377.8" y2="916.8" stroke="#000" stroke-width="2"/>
<line x1="1475" y1="916.8" x2="1484" y2="916.8" stroke="#000" stroke-width="2"/>
<line x1="368.8" y1="920.7" x2="377.8" y2="920.7" stroke="#000" stroke-width="2"/>
<line x1="1475" y1="920.7" x2="1484" y2="920.7" stroke="#000" stroke-width="2"/>
<line x1="368.8" y1="924.6" x2="377.8" y2="924.6" stroke="#000" stroke-width="2"/>
<line x1="1475" y1="924.6" x2="1484" y2="924.6" stroke="#000" stroke-width="2"/>
<line x1="362.8" y1="928.5" x2="377.8" y2="928.5" stroke="#000" stroke-width="2.4"/>
<line x1="1475" y1="928.5" x2="1489" y2="928.5" stroke="#000" stroke-width="2.4"/>
<line x1="368.8" y1="932.4" x2="377.8" y2="932.4" stroke="#000" stroke-width="2"/>
<line x1="1475" y1="932.4" x2="1484" y2="932.4" stroke="#000" stroke-width="2"/>
<line x1="368.8" y1="936.3" x2="377.8" y2="936.3" stroke="#000" stroke-width="2"/>
<line x1="1475" y1="936.3" x2="1484" y2="936.3" stroke="#000" stroke-width="2"/>
<line x1="368.8" y1="940.3" x2="377.8" y2="940.3" stroke="#000" stroke-width="2"/>
<line x1="1475" y1="940.3" x2="1484" y2="940.3" stroke="#000" stroke-width="2"/>
<line x1="368.8" y1="944.2" x2="377.8" y2="944.2" stroke="#000" stroke-width="2"/>
<line x1="1475" y1="944.2" x2="1484" y2="944.2" stroke="#000" stroke-width="2"/>
<line x1="368.8" y1="948.1" x2="377.8" y2="948.1" stroke="#000" stroke-width="2"/>
<line x1="1475" y1="948.1" x2="1484" y2="948.1" stroke="#000" stroke-width="2"/>
<line x1="368.8" y1="952" x2="377.8" y2="952" stroke="#000" stroke-width="2"/>
<line x1="1475" y1="952" x2="1484" y2="952" stroke="#000" stroke-width="2"/>
<line x1="368.8" y1="955.9" x2="377.8" y2="955.9" stroke="#000" stroke-width="2"/>
<line x1="1475" y1="955.9" x2="1484" y2="955.9" stroke="#000" stroke-width="2"/>
<line x1="368.8" y1="959.8" x2="377.8" y2="959.8" stroke="#000" stroke-width="2"/>
<line x1="1475" y1="959.8" x2="1484" y2="959.8" stroke="#000" stroke-width="2"/>
<line x1="368.8" y1="963.8" x2="377.8" y2="963.8" stroke="#000" stroke-width="2"/>
<line x1="1475" y1="963.8" x2="1484" y2="963.8" stroke="#000" stroke-width="2"/>
<line x1="368.8" y1="967.7" x2="377.8" y2="967.7" stroke="#000" stroke-width="2"/>
<line x1="1475" y1="967.7" x2="1484" y2="967.7" stroke="#000" stroke-width="2"/>
<line x1="368.8" y1="971.6" x2="377.8" y2="971.6" stroke="#000" stroke-width="2"/>
<line x1="1475" y1="971.6" x2="1484" y2="971.6" stroke="#000" stroke-width="2"/>
<line x1="368.8" y1="975.5" x2="377.8" y2="975.5" stroke="#000" stroke-width="2"/>
<line x1="1475" y1="975.5" x2="1484" y2="975.5" stroke="#000" stroke-width="2"/>
<line x1="368.8" y1="979.4" x2="377.8" y2="979.4" stroke="#000" stroke-width="2"/>
<line x1="1475" y1="979.4" x2="1484" y2="979.4" stroke="#000" stroke-width="2"/>
<line x1="368.8" y1="983.3" x2="377.8" y2="983.3" stroke="#000" stroke-width="2"/>
<line x1="1475" y1="983.3" x2="1484" y2="983.3" stroke="#000" stroke-width="2"/>
<line x1="362.8" y1="987.2" x2="377.8" y2="987.2" stroke="#000" stroke-width="2.4"/>
<line x1="1475" y1="987.2" x2="1489" y2="987.2" stroke="#000" stroke-width="2.4"/>
<line x1="368.8" y1="991.2" x2="377.8" y2="991.2" stroke="#000" stroke-width="2"/>
<line x1="1475" y1="991.2" x2="1484" y2="991.2" stroke="#000" stroke-width="2"/>
<line x1="368.8" y1="995.1" x2="377.8" y2="995.1" stroke="#000" stroke-width="2"/>
<line x1="1475" y1="995.1" x2="1484" y2="995.1" stroke="#000" stroke-width="2"/>
<line x1="368.8" y1="999" x2="377.8" y2="999" stroke="#000" stroke-width="2"/>
<line x1="1475" y1="999" x2="1484" y2="999" stroke="#000" stroke-width="2"/>
<line x1="368.8" y1="1002.9" x2="377.8" y2="1002.9" stroke="#000" stroke-width="2"/>
<line x1="1475" y1="1002.9" x2="1484" y2="1002.9" stroke="#000" stroke-width="2"/>
<line x1="368.8" y1="1006.8" x2="377.8" y2="1006.8" stroke="#000" stroke-width="2"/>
<line x1="1475" y1="1006.8" x2="1484" y2="1006.8" stroke="#000" stroke-width="2"/>
<line x1="368.8" y1="1010.7" x2="377.8" y2="1010.7" stroke="#000" stroke-width="2"/>
<line x1="1475" y1="1010.7" x2="1484" y2="1010.7" stroke="#000" stroke-width="2"/>
<line x1="368.8" y1="1014.6" x2="377.8" y2="1014.6" stroke="#000" stroke-width="2"/>
<line x1="1475" y1="1014.6" x2="1484" y2="1014.6" stroke="#000" stroke-width="2"/>
<line x1="368.8" y1="1018.6" x2="377.8" y2="1018.6" stroke="#000" stroke-width="2"/>
<line x1="1475" y1="1018.6" x2="1484" y2="1018.6" stroke="#000" stroke-width="2"/>
<line x1="368.8" y1="1022.5" x2="377.8" y2="1022.5" stroke="#000" stroke-width="2"/>
<line x1="1475" y1="1022.5" x2="1484" y2="1022.5" stroke="#000" stroke-width="2"/>
<line x1="368.8" y1="1026.4" x2="377.8" y2="1026.4" stroke="#000" stroke-width="2"/>
<line x1="1475" y1="1026.4" x2="1484" y2="1026.4" stroke="#000" stroke-width="2"/>
<line x1="368.8" y1="1030.3" x2="377.8" y2="1030.3" stroke="#000" stroke-width="2"/>
<line x1="1475" y1="1030.3" x2="1484" y2="1030.3" stroke="#000" stroke-width="2"/>
<line x1="368.8" y1="1034.2" x2="377.8" y2="1034.2" stroke="#000" stroke-width="2"/>
<line x1="1475" y1="1034.2" x2="1484" y2="1034.2" stroke="#000" stroke-width="2"/>
<line x1="368.8" y1="1038.1" x2="377.8" y2="1038.1" stroke="#000" stroke-width="2"/>
<line x1="1475" y1="1038.1" x2="1484" y2="1038.1" stroke="#000" stroke-width="2"/>
<line x1="368.8" y1="1042" x2="377.8" y2="1042" stroke="#000" stroke-width="2"/>
<line x1="1475" y1="1042" x2="1484" y2="1042" stroke="#000" stroke-width="2"/>
<line x1="362.8" y1="1046" x2="377.8" y2="1046" stroke="#000" stroke-width="2.4"/>
<line x1="1475" y1="1046" x2="1489" y2="1046" stroke="#000" stroke-width="2.4"/>
<line x1="368.8" y1="1049.9" x2="377.8" y2="1049.9" stroke="#000" stroke-width="2"/>
<line x1="1475" y1="1049.9" x2="1484" y2="1049.9" stroke="#000" stroke-width="2"/>
<line x1="368.8" y1="1053.8" x2="377.8" y2="1053.8" stroke="#000" stroke-width="2"/>
<line x1="1475" y1="1053.8" x2="1484" y2="1053.8" stroke="#000" stroke-width="2"/>
<line x1="368.8" y1="1057.7" x2="377.8" y2="1057.7" stroke="#000" stroke-width="2"/>
<line x1="1475" y1="1057.7" x2="1484" y2="1057.7" stroke="#000" stroke-width="2"/>
<line x1="368.8" y1="1061.6" x2="377.8" y2="1061.6" stroke="#000" stroke-width="2"/>
<line x1="1475" y1="1061.6" x2="1484" y2="1061.6" stroke="#000" stroke-width="2"/>
<line x1="368.8" y1="1065.5" x2="377.8" y2="1065.5" stroke="#000" stroke-width="2"/>
<line x1="1475" y1="1065.5" x2="1484" y2="1065.5" stroke="#000" stroke-width="2"/>
<line x1="368.8" y1="1069.4" x2="377.8" y2="1069.4" stroke="#000" stroke-width="2"/>
<line x1="1475" y1="1069.4" x2="1484" y2="1069.4" stroke="#000" stroke-width="2"/>
<line x1="368.8" y1="1073.4" x2="377.8" y2="1073.4" stroke="#000" stroke-width="2"/>
<line x1="1475" y1="1073.4" x2="1484" y2="1073.4" stroke="#000" stroke-width="2"/>
<line x1="368.8" y1="1077.3" x2="377.8" y2="1077.3" stroke="#000" stroke-width="2"/>
<line x1="1475" y1="1077.3" x2="1484" y2="1077.3" stroke="#000" stroke-width="2"/>
<line x1="368.8" y1="1081.2" x2="377.8" y2="1081.2" stroke="#000" stroke-width="2"/>
<line x1="1475" y1="1081.2" x2="1484" y2="1081.2" stroke="#000" stroke-width="2"/>
<line x1="368.8" y1="1085.1" x2="377.8" y2="1085.1" stroke="#000" stroke-width="2"/>
<line x1="1475" y1="1085.1" x2="1484" y2="1085.1" stroke="#000" stroke-width="2"/>
<line x1="368.8" y1="1089" x2="377.8" y2="1089" stroke="#000" stroke-width="2"/>
<line x1="1475" y1="1089" x2="1484" y2="1089" stroke="#000" stroke-width="2"/>
<line x1="368.8" y1="1092.9" x2="377.8" y2="1092.9" stroke="#000" stroke-width="2"/>
<line x1="1475" y1="1092.9" x2="1484" y2="1092.9" stroke="#000" stroke-width="2"/>
<line x1="368.8" y1="1096.9" x2="377.8" y2="1096.9" stroke="#000" stroke-width="2"/>
<line x1="1475" y1="1096.9" x2="1484" y2="1096.9" stroke="#000" stroke-width="2"/>
<line x1="368.8" y1="1100.8" x2="377.8" y2="1100.8" stroke="#000" stroke-width="2"/>
<line x1="1475" y1="1100.8" x2="1484" y2="1100.8" stroke="#000" stroke-width="2"/>
<line x1="362.8" y1="1104.7" x2="377.8" y2="1104.7" stroke="#000" stroke-width="2.4"/>
<line x1="1475" y1="1104.7" x2="1489" y2="1104.7" stroke="#000" stroke-width="2.4"/>
<line x1="368.8" y1="1108.6" x2="377.8" y2="1108.6" stroke="#000" stroke-width="2"/>
<line x1="1475" y1="1108.6" x2="1484" y2="1108.6" stroke="#000" stroke-width="2"/>
<line x1="368.8" y1="1112.5" x2="377.8" y2="1112.5" stroke="#000" stroke-width="2"/>
<line x1="1475" y1="1112.5" x2="1484" y2="1112.5" stroke="#000" stroke-width="2"/>
<line x1="368.8" y1="1116.4" x2="377.8" y2="1116.4" stroke="#000" stroke-width="2"/>
<line x1="1475" y1="1116.4" x2="1484" y2="1116.4" stroke="#000" stroke-width="2"/>
<line x1="368.8" y1="1120.3" x2="377.8" y2="1120.3" stroke="#000" stroke-width="2"/>
<line x1="1475" y1="1120.3" x2="1484" y2="1120.3" stroke="#000" stroke-width="2"/>
<line x1="368.8" y1="1124.3" x2="377.8" y2="1124.3" stroke="#000" stroke-width="2"/>
<line x1="1475" y1="1124.3" x2="1484" y2="1124.3" stroke="#000" stroke-width="2"/>
<line x1="368.8" y1="1128.2" x2="377.8" y2="1128.2" stroke="#000" stroke-width="2"/>
<line x1="1475" y1="1128.2" x2="1484" y2="1128.2" stroke="#000" stroke-width="2"/>
<line x1="368.8" y1="1132.1" x2="377.8" y2="1132.1" stroke="#000" stroke-width="2"/>
<line x1="1475" y1="1132.1" x2="1484" y2="1132.1" stroke="#000" stroke-width="2"/>
<line x1="368.8" y1="1136" x2="377.8" y2="1136" stroke="#000" stroke-width="2"/>
<line x1="1475" y1="1136" x2="1484" y2="1136" stroke="#000" stroke-width="2"/>
<line x1="368.8" y1="1139.9" x2="377.8" y2="1139.9" stroke="#000" stroke-width="2"/>
<line x1="1475" y1="1139.9" x2="1484" y2="1139.9" stroke="#000" stroke-width="2"/>
<line x1="368.8" y1="1143.8" x2="377.8" y2="1143.8" stroke="#000" stroke-width="2"/>
<line x1="1475" y1="1143.8" x2="1484" y2="1143.8" stroke="#000" stroke-width="2"/>
<line x1="368.8" y1="1147.7" x2="377.8" y2="1147.7" stroke="#000" stroke-width="2"/>
<line x1="1475" y1="1147.7" x2="1484" y2="1147.7" stroke="#000" stroke-width="2"/>
<line x1="368.8" y1="1151.7" x2="377.8" y2="1151.7" stroke="#000" stroke-width="2"/>
<line x1="1475" y1="1151.7" x2="1484" y2="1151.7" stroke="#000" stroke-width="2"/>
<line x1="368.8" y1="1155.6" x2="377.8" y2="1155.6" stroke="#000" stroke-width="2"/>
<line x1="1475" y1="1155.6" x2="1484" y2="1155.6" stroke="#000" stroke-width="2"/>
<line x1="368.8" y1="1159.5" x2="377.8" y2="1159.5" stroke="#000" stroke-width="2"/>
<line x1="1475" y1="1159.5" x2="1484" y2="1159.5" stroke="#000" stroke-width="2"/>
<text x="357.8" y="875.3" font-size="16.3" text-anchor="end" fill="#000">10530</text>
<text x="357.8" y="934" font-size="16.3" text-anchor="end" fill="#000">10515</text>
<text x="357.8" y="992.7" font-size="16.3" text-anchor="end" fill="#000">10500</text>
<text x="357.8" y="1051.5" font-size="16.3" text-anchor="end" fill="#000">10485</text>
<text x="357.8" y="1110.2" font-size="16.3" text-anchor="end" fill="#000">10470</text>
<text x="357.8" y="1168.9" font-size="16.3" text-anchor="end" fill="#000">10455</text>
<text x="1494.3" y="875.3" font-size="16.3" text-anchor="start" fill="#000">180</text>
<text x="1494.3" y="934" font-size="16.3" text-anchor="start" fill="#000">144</text>
<text x="1494.3" y="992.7" font-size="16.3" text-anchor="start" fill="#000">108</text>
<text x="1494.3" y="1051.5" font-size="16.3" text-anchor="start" fill="#000">72</text>
<text x="1494.3" y="1110.2" font-size="16.3" text-anchor="start" fill="#000">36</text>
<text x="1494.3" y="1168.9" font-size="16.3" text-anchor="start" fill="#000">0</text>
<text x="217.2" y="1016" font-size="22" text-anchor="middle" fill="#000" transform="rotate(-90 217.2 1016)">Sensor Data</text>
<text x="235.9" y="1016" font-size="22" text-anchor="middle" fill="#000" transform="rotate(-90 235.9 1016)">MEx Alt/Mars/Pd</text>
<text x="257.9" y="1016" font-size="22" text-anchor="middle" fill="#000" transform="rotate(-90 257.9 1016)">Distance</text>
<text x="280.7" y="1016" font-size="22" text-anchor="middle" fill="#000" transform="rotate(-90 280.7 1016)">km</text>
<text x="1614.3" y="1016.9" font-size="22" text-anchor="middle" fill="#cc1a1a" transform="rotate(90 1614.3 1016.9)">Sensor Data</text>
<text x="1592.3" y="1016.9" font-size="22" text-anchor="middle" fill="#cc1a1a" transform="rotate(90 1592.3 1016.9)">MEx SZA</text>
<text x="1569.4" y="1016.9" font-size="22" text-anchor="middle" fill="#cc1a1a" transform="rotate(90 1569.4 1016.9)">Angle</text>
<text x="1550.2" y="1016.9" font-size="22" text-anchor="middle" fill="#cc1a1a" transform="rotate(90 1550.2 1016.9)">degrees</text>
<text x="310" y="1189" font-size="22" text-anchor="end" fill="#000">2015/226</text>
<text x="378.2" y="1189" font-size="22" text-anchor="middle" fill="#000">12:32</text>
<text x="624.4" y="1189" font-size="22" text-anchor="middle" fill="#000">12:34</text>
<text x="869.5" y="1189" font-size="22" text-anchor="middle" fill="#000">12:36</text>
<text x="1113.8" y="1189" font-size="22" text-anchor="middle" fill="#000">12:38</text>
<text x="1358.9" y="1189" font-size="22" text-anchor="middle" fill="#000">12:40</text>
<text x="310" y="1217.2" font-size="22" text-anchor="end" fill="#000">PdLat (deg)</text>
<text x="378.2" y="1217.2" font-size="22" text-anchor="middle" fill="#000">38.87</text>
<text x="624.4" y="1217.2" font-size="22" text-anchor="middle" fill="#000">38.31</text>
<text x="869.5" y="1217.2" font-size="22" text-anchor="middle" fill="#000">37.75</text>
<text x="1113.8" y="1217.2" font-size="22" text-anchor="middle" fill="#000">37.18</text>
<text x="1358.9" y="1217.2" font-size="22" text-anchor="middle" fill="#000">36.62</text>
<text x="310" y="1242.4" font-size="22" text-anchor="end" fill="#000">PdLon (deg)</text>
<text x="378.2" y="1242.4" font-size="22" text-anchor="middle" fill="#000">41.95</text>
<text x="624.4" y="1242.4" font-size="22" text-anchor="middle" fill="#000">41.51</text>
<text x="869.5" y="1242.4" font-size="22" text-anchor="middle" fill="#000">41.07</text>
<text x="1113.8" y="1242.4" font-size="22" text-anchor="middle" fill="#000">40.63</text>
<text x="1358.9" y="1242.4" font-size="22" text-anchor="middle" fill="#000">40.19</text>
<text x="310" y="1268.8" font-size="22" text-anchor="end" fill="#000">LST (hr)</text>
<text x="378.2" y="1268.8" font-size="22" text-anchor="middle" fill="#000">2.05</text>
<text x="624.4" y="1268.8" font-size="22" text-anchor="middle" fill="#000">2.08</text>
<text x="869.5" y="1268.8" font-size="22" text-anchor="middle" fill="#000">2.10</text>
<text x="1113.8" y="1268.8" font-size="22" text-anchor="middle" fill="#000">2.13</text>
<text x="1358.9" y="1268.8" font-size="22" text-anchor="middle" fill="#000">2.16</text>
<text x="310" y="1296.8" font-size="22" text-anchor="end" fill="#000">F10.7 (sfu)</text>
<text x="379" y="1296.8" font-size="22" text-anchor="start" fill="#000">No Data or Data Unavailable</text>
<text x="310" y="1324.8" font-size="22" text-anchor="end" fill="#000">M-E Ang (deg)</text>
<text x="378.2" y="1324.8" font-size="22" text-anchor="middle" fill="#000">151.08</text>
<text x="624.4" y="1324.8" font-size="22" text-anchor="middle" fill="#000">151.08</text>
<text x="869.5" y="1324.8" font-size="22" text-anchor="middle" fill="#000">151.08</text>
<text x="1113.8" y="1324.8" font-size="22" text-anchor="middle" fill="#000">151.08</text>
<text x="1358.9" y="1324.8" font-size="22" text-anchor="middle" fill="#000">151.08</text>
<text x="310" y="1349.9" font-size="22" text-anchor="end" fill="#000">X-rays (W/m**2)</text>
<text x="378.2" y="1349.9" font-size="22" text-anchor="middle" fill="#000">2.7e-07</text>
<text x="624.4" y="1349.9" font-size="22" text-anchor="middle" fill="#000">2.7e-07</text>
<text x="869.5" y="1349.9" font-size="22" text-anchor="middle" fill="#000">2.7e-07</text>
<text x="1113.8" y="1349.9" font-size="22" text-anchor="middle" fill="#000">2.9e-07</text>
<text x="1358.9" y="1349.9" font-size="22" text-anchor="middle" fill="#000">2.8e-07</text>
<text x="310" y="1378.2" font-size="22" text-anchor="end" fill="#000">MSOX (km)</text>
<text x="378.2" y="1378.2" font-size="22" text-anchor="middle" fill="#000">-5652.56</text>
<text x="624.4" y="1378.2" font-size="22" text-anchor="middle" fill="#000">-5720.20</text>
<text x="869.5" y="1378.2" font-size="22" text-anchor="middle" fill="#000">-5786.53</text>
<text x="1113.8" y="1378.2" font-size="22" text-anchor="middle" fill="#000">-5851.54</text>
<text x="1358.9" y="1378.2" font-size="22" text-anchor="middle" fill="#000">-5915.20</text>
<text x="310" y="1405.8" font-size="22" text-anchor="end" fill="#000">MSOY (km)</text>
<text x="378.2" y="1405.8" font-size="22" text-anchor="middle" fill="#000">-3363.23</text>
<text x="624.4" y="1405.8" font-size="22" text-anchor="middle" fill="#000">-3459.73</text>
<text x="869.5" y="1405.8" font-size="22" text-anchor="middle" fill="#000">-3555.43</text>
<text x="1113.8" y="1405.8" font-size="22" text-anchor="middle" fill="#000">-3650.30</text>
<text x="1358.9" y="1405.8" font-size="22" text-anchor="middle" fill="#000">-3744.35</text>
<text x="310" y="1433.2" font-size="22" text-anchor="end" fill="#000">MSOZ (km)</text>
<text x="378.2" y="1433.2" font-size="22" text-anchor="middle" fill="#000">12257.49</text>
<text x="624.4" y="1433.2" font-size="22" text-anchor="middle" fill="#000">12187.64</text>
<text x="869.5" y="1433.2" font-size="22" text-anchor="middle" fill="#000">12114.90</text>
<text x="1113.8" y="1433.2" font-size="22" text-anchor="middle" fill="#000">12039.36</text>
<text x="1358.9" y="1433.2" font-size="22" text-anchor="middle" fill="#000">11961.12</text>
<rect x="1691.5" y="214.5" width="78.7" height="252" fill="url(#g70)"/>
<rect x="1693.5" y="216.5" width="74.7" height="248" fill="none" stroke="#f4c8f0" stroke-width="1"/>
<rect x="1691.5" y="214.5" width="78.7" height="252" fill="none" stroke="#000" stroke-width="3"/>
<text x="1730.8" y="208.2" font-size="19.5" text-anchor="middle" fill="#000">DEF</text>
<line x1="1759.2" y1="340.5" x2="1770.2" y2="340.5" stroke="#000" stroke-width="2.4"/>
<line x1="1764.2" y1="302.6" x2="1770.2" y2="302.6" stroke="#000" stroke-width="1.8"/>
<line x1="1764.2" y1="280.4" x2="1770.2" y2="280.4" stroke="#000" stroke-width="1.8"/>
<line x1="1764.2" y1="264.6" x2="1770.2" y2="264.6" stroke="#000" stroke-width="1.8"/>
<line x1="1764.2" y1="252.4" x2="1770.2" y2="252.4" stroke="#000" stroke-width="1.8"/>
<line x1="1764.2" y1="242.5" x2="1770.2" y2="242.5" stroke="#000" stroke-width="1.8"/>
<line x1="1764.2" y1="234" x2="1770.2" y2="234" stroke="#000" stroke-width="1.8"/>
<line x1="1764.2" y1="226.7" x2="1770.2" y2="226.7" stroke="#000" stroke-width="1.8"/>
<line x1="1764.2" y1="220.3" x2="1770.2" y2="220.3" stroke="#000" stroke-width="1.8"/>
<line x1="1759.2" y1="466.5" x2="1770.2" y2="466.5" stroke="#000" stroke-width="2.4"/>
<line x1="1764.2" y1="428.6" x2="1770.2" y2="428.6" stroke="#000" stroke-width="1.8"/>
<line x1="1764.2" y1="406.4" x2="1770.2" y2="406.4" stroke="#000" stroke-width="1.8"/>
<line x1="1764.2" y1="390.6" x2="1770.2" y2="390.6" stroke="#000" stroke-width="1.8"/>
<line x1="1764.2" y1="378.4" x2="1770.2" y2="378.4" stroke="#000" stroke-width="1.8"/>
<line x1="1764.2" y1="368.5" x2="1770.2" y2="368.5" stroke="#000" stroke-width="1.8"/>
<line x1="1764.2" y1="360" x2="1770.2" y2="360" stroke="#000" stroke-width="1.8"/>
<line x1="1764.2" y1="352.7" x2="1770.2" y2="352.7" stroke="#000" stroke-width="1.8"/>
<line x1="1764.2" y1="346.3" x2="1770.2" y2="346.3" stroke="#000" stroke-width="1.8"/>
<text x="1782" y="216.5" font-size="13" text-anchor="start" fill="#000">10</text>
<text x="1796.5" y="211.5" font-size="8.5" text-anchor="start" fill="#000">-4</text>
<text x="1782" y="342.5" font-size="13" text-anchor="start" fill="#000">10</text>
<text x="1796.5" y="337.5" font-size="8.5" text-anchor="start" fill="#000">-5</text>
<text x="1782" y="468.5" font-size="13" text-anchor="start" fill="#000">10</text>
<text x="1796.5" y="463.5" font-size="8.5" text-anchor="start" fill="#000">-6</text>
<text x="1847" y="341.5" font-size="19.6" text-anchor="middle" fill="#000" transform="rotate(90 1847 341.5)">ergs/(cm**2-sr-sec-eV)</text>
<rect x="1691.5" y="567" width="78.7" height="249" fill="url(#g71)"/>
<rect x="1693.5" y="569" width="74.7" height="245" fill="none" stroke="#f4c8f0" stroke-width="1"/>
<rect x="1691.5" y="567" width="78.7" height="249" fill="none" stroke="#000" stroke-width="3"/>
<text x="1730.8" y="560.7" font-size="19.5" text-anchor="middle" fill="#000">DEF</text>
<line x1="1759.2" y1="691.5" x2="1770.2" y2="691.5" stroke="#000" stroke-width="2.4"/>
<line x1="1764.2" y1="654" x2="1770.2" y2="654" stroke="#000" stroke-width="1.8"/>
<line x1="1764.2" y1="632.1" x2="1770.2" y2="632.1" stroke="#000" stroke-width="1.8"/>
<line x1="1764.2" y1="616.5" x2="1770.2" y2="616.5" stroke="#000" stroke-width="1.8"/>
<line x1="1764.2" y1="604.5" x2="1770.2" y2="604.5" stroke="#000" stroke-width="1.8"/>
<line x1="1764.2" y1="594.6" x2="1770.2" y2="594.6" stroke="#000" stroke-width="1.8"/>
<line x1="1764.2" y1="586.3" x2="1770.2" y2="586.3" stroke="#000" stroke-width="1.8"/>
<line x1="1764.2" y1="579.1" x2="1770.2" y2="579.1" stroke="#000" stroke-width="1.8"/>
<line x1="1764.2" y1="572.7" x2="1770.2" y2="572.7" stroke="#000" stroke-width="1.8"/>
<line x1="1759.2" y1="816" x2="1770.2" y2="816" stroke="#000" stroke-width="2.4"/>
<line x1="1764.2" y1="778.5" x2="1770.2" y2="778.5" stroke="#000" stroke-width="1.8"/>
<line x1="1764.2" y1="756.6" x2="1770.2" y2="756.6" stroke="#000" stroke-width="1.8"/>
<line x1="1764.2" y1="741" x2="1770.2" y2="741" stroke="#000" stroke-width="1.8"/>
<line x1="1764.2" y1="729" x2="1770.2" y2="729" stroke="#000" stroke-width="1.8"/>
<line x1="1764.2" y1="719.1" x2="1770.2" y2="719.1" stroke="#000" stroke-width="1.8"/>
<line x1="1764.2" y1="710.8" x2="1770.2" y2="710.8" stroke="#000" stroke-width="1.8"/>
<line x1="1764.2" y1="703.6" x2="1770.2" y2="703.6" stroke="#000" stroke-width="1.8"/>
<line x1="1764.2" y1="697.2" x2="1770.2" y2="697.2" stroke="#000" stroke-width="1.8"/>
<text x="1782" y="569" font-size="13" text-anchor="start" fill="#000">10</text>
<text x="1796.5" y="564" font-size="8.5" text-anchor="start" fill="#000">-5</text>
<text x="1782" y="693.5" font-size="13" text-anchor="start" fill="#000">10</text>
<text x="1796.5" y="688.5" font-size="8.5" text-anchor="start" fill="#000">-6</text>
<text x="1782" y="818" font-size="13" text-anchor="start" fill="#000">10</text>
<text x="1796.5" y="813" font-size="8.5" text-anchor="start" fill="#000">-7</text>
<text x="1847" y="692.5" font-size="19.6" text-anchor="middle" fill="#000" transform="rotate(90 1847 692.5)">ergs/(cm**2-sr-sec-eV)</text></svg>
</body></html>
